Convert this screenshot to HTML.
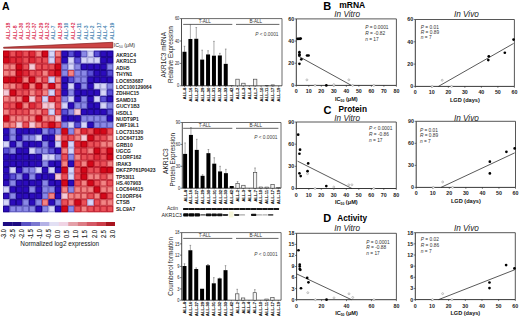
<!DOCTYPE html>
<html><head><meta charset="utf-8"><style>
html,body{margin:0;padding:0;background:#fff;overflow:hidden;width:520px;height:318px;}
svg{display:block;}
text{font-family:"Liberation Sans", sans-serif;}
</style></head><body>
<svg width="520" height="318" viewBox="0 0 520 318">
<rect width="520" height="318" fill="#fff"/>
<rect x="3.10" y="50.70" width="6.48" height="6.46" fill="#d4081a"/>
<rect x="9.58" y="50.70" width="6.48" height="6.46" fill="#ea5058"/>
<rect x="16.06" y="50.70" width="6.48" height="6.46" fill="#e02a38"/>
<rect x="22.54" y="50.70" width="6.48" height="6.46" fill="#ea5058"/>
<rect x="29.02" y="50.70" width="6.48" height="6.46" fill="#e02a38"/>
<rect x="35.50" y="50.70" width="6.48" height="6.46" fill="#f28484"/>
<rect x="41.98" y="50.70" width="6.48" height="6.46" fill="#d4081a"/>
<rect x="48.46" y="50.70" width="6.48" height="6.46" fill="#d6d6f8"/>
<rect x="54.94" y="50.70" width="6.48" height="6.46" fill="#f28484"/>
<rect x="61.42" y="50.70" width="6.48" height="6.46" fill="#2c0cbc"/>
<rect x="67.90" y="50.70" width="6.48" height="6.46" fill="#5a50d6"/>
<rect x="74.38" y="50.70" width="6.48" height="6.46" fill="#2c0cbc"/>
<rect x="80.86" y="50.70" width="6.48" height="6.46" fill="#8a88e6"/>
<rect x="87.34" y="50.70" width="6.48" height="6.46" fill="#d6d6f8"/>
<rect x="93.82" y="50.70" width="6.48" height="6.46" fill="#5a50d6"/>
<rect x="100.30" y="50.70" width="6.48" height="6.46" fill="#2c0cbc"/>
<rect x="106.78" y="50.70" width="6.48" height="6.46" fill="#2c0cbc"/>
<rect x="3.10" y="57.16" width="6.48" height="6.46" fill="#d4081a"/>
<rect x="9.58" y="57.16" width="6.48" height="6.46" fill="#e02a38"/>
<rect x="16.06" y="57.16" width="6.48" height="6.46" fill="#e02a38"/>
<rect x="22.54" y="57.16" width="6.48" height="6.46" fill="#ea5058"/>
<rect x="29.02" y="57.16" width="6.48" height="6.46" fill="#e02a38"/>
<rect x="35.50" y="57.16" width="6.48" height="6.46" fill="#ea5058"/>
<rect x="41.98" y="57.16" width="6.48" height="6.46" fill="#ea5058"/>
<rect x="48.46" y="57.16" width="6.48" height="6.46" fill="#d6d6f8"/>
<rect x="54.94" y="57.16" width="6.48" height="6.46" fill="#ea5058"/>
<rect x="61.42" y="57.16" width="6.48" height="6.46" fill="#2c0cbc"/>
<rect x="67.90" y="57.16" width="6.48" height="6.46" fill="#d6d6f8"/>
<rect x="74.38" y="57.16" width="6.48" height="6.46" fill="#5a50d6"/>
<rect x="80.86" y="57.16" width="6.48" height="6.46" fill="#d6d6f8"/>
<rect x="87.34" y="57.16" width="6.48" height="6.46" fill="#d6d6f8"/>
<rect x="93.82" y="57.16" width="6.48" height="6.46" fill="#d6d6f8"/>
<rect x="100.30" y="57.16" width="6.48" height="6.46" fill="#2c0cbc"/>
<rect x="106.78" y="57.16" width="6.48" height="6.46" fill="#2c0cbc"/>
<rect x="3.10" y="63.62" width="6.48" height="6.46" fill="#f28484"/>
<rect x="9.58" y="63.62" width="6.48" height="6.46" fill="#f28484"/>
<rect x="16.06" y="63.62" width="6.48" height="6.46" fill="#d4081a"/>
<rect x="22.54" y="63.62" width="6.48" height="6.46" fill="#ea5058"/>
<rect x="29.02" y="63.62" width="6.48" height="6.46" fill="#f5cad8"/>
<rect x="35.50" y="63.62" width="6.48" height="6.46" fill="#ea5058"/>
<rect x="41.98" y="63.62" width="6.48" height="6.46" fill="#ea5058"/>
<rect x="48.46" y="63.62" width="6.48" height="6.46" fill="#ea5058"/>
<rect x="54.94" y="63.62" width="6.48" height="6.46" fill="#d4081a"/>
<rect x="61.42" y="63.62" width="6.48" height="6.46" fill="#8a88e6"/>
<rect x="67.90" y="63.62" width="6.48" height="6.46" fill="#d6d6f8"/>
<rect x="74.38" y="63.62" width="6.48" height="6.46" fill="#8a88e6"/>
<rect x="80.86" y="63.62" width="6.48" height="6.46" fill="#2c0cbc"/>
<rect x="87.34" y="63.62" width="6.48" height="6.46" fill="#2c0cbc"/>
<rect x="93.82" y="63.62" width="6.48" height="6.46" fill="#2c0cbc"/>
<rect x="100.30" y="63.62" width="6.48" height="6.46" fill="#2c0cbc"/>
<rect x="106.78" y="63.62" width="6.48" height="6.46" fill="#8a88e6"/>
<rect x="3.10" y="70.08" width="6.48" height="6.46" fill="#f28484"/>
<rect x="9.58" y="70.08" width="6.48" height="6.46" fill="#f28484"/>
<rect x="16.06" y="70.08" width="6.48" height="6.46" fill="#d4081a"/>
<rect x="22.54" y="70.08" width="6.48" height="6.46" fill="#e02a38"/>
<rect x="29.02" y="70.08" width="6.48" height="6.46" fill="#ea5058"/>
<rect x="35.50" y="70.08" width="6.48" height="6.46" fill="#ea5058"/>
<rect x="41.98" y="70.08" width="6.48" height="6.46" fill="#f28484"/>
<rect x="48.46" y="70.08" width="6.48" height="6.46" fill="#e02a38"/>
<rect x="54.94" y="70.08" width="6.48" height="6.46" fill="#d4081a"/>
<rect x="61.42" y="70.08" width="6.48" height="6.46" fill="#8a88e6"/>
<rect x="67.90" y="70.08" width="6.48" height="6.46" fill="#f28484"/>
<rect x="74.38" y="70.08" width="6.48" height="6.46" fill="#8a88e6"/>
<rect x="80.86" y="70.08" width="6.48" height="6.46" fill="#8a88e6"/>
<rect x="87.34" y="70.08" width="6.48" height="6.46" fill="#5a50d6"/>
<rect x="93.82" y="70.08" width="6.48" height="6.46" fill="#2c0cbc"/>
<rect x="100.30" y="70.08" width="6.48" height="6.46" fill="#2c0cbc"/>
<rect x="106.78" y="70.08" width="6.48" height="6.46" fill="#5a50d6"/>
<rect x="3.10" y="76.54" width="6.48" height="6.46" fill="#d4081a"/>
<rect x="9.58" y="76.54" width="6.48" height="6.46" fill="#d4081a"/>
<rect x="16.06" y="76.54" width="6.48" height="6.46" fill="#d4081a"/>
<rect x="22.54" y="76.54" width="6.48" height="6.46" fill="#f28484"/>
<rect x="29.02" y="76.54" width="6.48" height="6.46" fill="#d4081a"/>
<rect x="35.50" y="76.54" width="6.48" height="6.46" fill="#f28484"/>
<rect x="41.98" y="76.54" width="6.48" height="6.46" fill="#ea5058"/>
<rect x="48.46" y="76.54" width="6.48" height="6.46" fill="#d6d6f8"/>
<rect x="54.94" y="76.54" width="6.48" height="6.46" fill="#f28484"/>
<rect x="61.42" y="76.54" width="6.48" height="6.46" fill="#2c0cbc"/>
<rect x="67.90" y="76.54" width="6.48" height="6.46" fill="#5a50d6"/>
<rect x="74.38" y="76.54" width="6.48" height="6.46" fill="#8a88e6"/>
<rect x="80.86" y="76.54" width="6.48" height="6.46" fill="#8a88e6"/>
<rect x="87.34" y="76.54" width="6.48" height="6.46" fill="#2c0cbc"/>
<rect x="93.82" y="76.54" width="6.48" height="6.46" fill="#2c0cbc"/>
<rect x="100.30" y="76.54" width="6.48" height="6.46" fill="#2c0cbc"/>
<rect x="106.78" y="76.54" width="6.48" height="6.46" fill="#2c0cbc"/>
<rect x="3.10" y="83.00" width="6.48" height="6.46" fill="#f28484"/>
<rect x="9.58" y="83.00" width="6.48" height="6.46" fill="#f28484"/>
<rect x="16.06" y="83.00" width="6.48" height="6.46" fill="#ea5058"/>
<rect x="22.54" y="83.00" width="6.48" height="6.46" fill="#d4081a"/>
<rect x="29.02" y="83.00" width="6.48" height="6.46" fill="#f28484"/>
<rect x="35.50" y="83.00" width="6.48" height="6.46" fill="#d4081a"/>
<rect x="41.98" y="83.00" width="6.48" height="6.46" fill="#f28484"/>
<rect x="48.46" y="83.00" width="6.48" height="6.46" fill="#d4081a"/>
<rect x="54.94" y="83.00" width="6.48" height="6.46" fill="#f28484"/>
<rect x="61.42" y="83.00" width="6.48" height="6.46" fill="#2c0cbc"/>
<rect x="67.90" y="83.00" width="6.48" height="6.46" fill="#d6d6f8"/>
<rect x="74.38" y="83.00" width="6.48" height="6.46" fill="#2c0cbc"/>
<rect x="80.86" y="83.00" width="6.48" height="6.46" fill="#8a88e6"/>
<rect x="87.34" y="83.00" width="6.48" height="6.46" fill="#2c0cbc"/>
<rect x="93.82" y="83.00" width="6.48" height="6.46" fill="#d6d6f8"/>
<rect x="100.30" y="83.00" width="6.48" height="6.46" fill="#d6d6f8"/>
<rect x="106.78" y="83.00" width="6.48" height="6.46" fill="#8a88e6"/>
<rect x="3.10" y="89.46" width="6.48" height="6.46" fill="#f5cad8"/>
<rect x="9.58" y="89.46" width="6.48" height="6.46" fill="#d4081a"/>
<rect x="16.06" y="89.46" width="6.48" height="6.46" fill="#ea5058"/>
<rect x="22.54" y="89.46" width="6.48" height="6.46" fill="#ea5058"/>
<rect x="29.02" y="89.46" width="6.48" height="6.46" fill="#f28484"/>
<rect x="35.50" y="89.46" width="6.48" height="6.46" fill="#ea5058"/>
<rect x="41.98" y="89.46" width="6.48" height="6.46" fill="#f28484"/>
<rect x="48.46" y="89.46" width="6.48" height="6.46" fill="#d6d6f8"/>
<rect x="54.94" y="89.46" width="6.48" height="6.46" fill="#ea5058"/>
<rect x="61.42" y="89.46" width="6.48" height="6.46" fill="#2c0cbc"/>
<rect x="67.90" y="89.46" width="6.48" height="6.46" fill="#8a88e6"/>
<rect x="74.38" y="89.46" width="6.48" height="6.46" fill="#2c0cbc"/>
<rect x="80.86" y="89.46" width="6.48" height="6.46" fill="#2c0cbc"/>
<rect x="87.34" y="89.46" width="6.48" height="6.46" fill="#2c0cbc"/>
<rect x="93.82" y="89.46" width="6.48" height="6.46" fill="#2c0cbc"/>
<rect x="100.30" y="89.46" width="6.48" height="6.46" fill="#d6d6f8"/>
<rect x="106.78" y="89.46" width="6.48" height="6.46" fill="#5a50d6"/>
<rect x="3.10" y="95.92" width="6.48" height="6.46" fill="#f28484"/>
<rect x="9.58" y="95.92" width="6.48" height="6.46" fill="#f28484"/>
<rect x="16.06" y="95.92" width="6.48" height="6.46" fill="#f28484"/>
<rect x="22.54" y="95.92" width="6.48" height="6.46" fill="#d4081a"/>
<rect x="29.02" y="95.92" width="6.48" height="6.46" fill="#f5cad8"/>
<rect x="35.50" y="95.92" width="6.48" height="6.46" fill="#ea5058"/>
<rect x="41.98" y="95.92" width="6.48" height="6.46" fill="#d6d6f8"/>
<rect x="48.46" y="95.92" width="6.48" height="6.46" fill="#e02a38"/>
<rect x="54.94" y="95.92" width="6.48" height="6.46" fill="#ea5058"/>
<rect x="61.42" y="95.92" width="6.48" height="6.46" fill="#8a88e6"/>
<rect x="67.90" y="95.92" width="6.48" height="6.46" fill="#d6d6f8"/>
<rect x="74.38" y="95.92" width="6.48" height="6.46" fill="#2c0cbc"/>
<rect x="80.86" y="95.92" width="6.48" height="6.46" fill="#8a88e6"/>
<rect x="87.34" y="95.92" width="6.48" height="6.46" fill="#2c0cbc"/>
<rect x="93.82" y="95.92" width="6.48" height="6.46" fill="#d6d6f8"/>
<rect x="100.30" y="95.92" width="6.48" height="6.46" fill="#5a50d6"/>
<rect x="106.78" y="95.92" width="6.48" height="6.46" fill="#2c0cbc"/>
<rect x="3.10" y="102.38" width="6.48" height="6.46" fill="#ea5058"/>
<rect x="9.58" y="102.38" width="6.48" height="6.46" fill="#ea5058"/>
<rect x="16.06" y="102.38" width="6.48" height="6.46" fill="#d4081a"/>
<rect x="22.54" y="102.38" width="6.48" height="6.46" fill="#f28484"/>
<rect x="29.02" y="102.38" width="6.48" height="6.46" fill="#e02a38"/>
<rect x="35.50" y="102.38" width="6.48" height="6.46" fill="#ea5058"/>
<rect x="41.98" y="102.38" width="6.48" height="6.46" fill="#f5cad8"/>
<rect x="48.46" y="102.38" width="6.48" height="6.46" fill="#f5cad8"/>
<rect x="54.94" y="102.38" width="6.48" height="6.46" fill="#ea5058"/>
<rect x="61.42" y="102.38" width="6.48" height="6.46" fill="#d6d6f8"/>
<rect x="67.90" y="102.38" width="6.48" height="6.46" fill="#2c0cbc"/>
<rect x="74.38" y="102.38" width="6.48" height="6.46" fill="#8a88e6"/>
<rect x="80.86" y="102.38" width="6.48" height="6.46" fill="#8a88e6"/>
<rect x="87.34" y="102.38" width="6.48" height="6.46" fill="#2c0cbc"/>
<rect x="93.82" y="102.38" width="6.48" height="6.46" fill="#2c0cbc"/>
<rect x="100.30" y="102.38" width="6.48" height="6.46" fill="#d6d6f8"/>
<rect x="106.78" y="102.38" width="6.48" height="6.46" fill="#8a88e6"/>
<rect x="3.10" y="108.84" width="6.48" height="6.46" fill="#f28484"/>
<rect x="9.58" y="108.84" width="6.48" height="6.46" fill="#ea5058"/>
<rect x="16.06" y="108.84" width="6.48" height="6.46" fill="#ea5058"/>
<rect x="22.54" y="108.84" width="6.48" height="6.46" fill="#ea5058"/>
<rect x="29.02" y="108.84" width="6.48" height="6.46" fill="#f28484"/>
<rect x="35.50" y="108.84" width="6.48" height="6.46" fill="#f28484"/>
<rect x="41.98" y="108.84" width="6.48" height="6.46" fill="#ea5058"/>
<rect x="48.46" y="108.84" width="6.48" height="6.46" fill="#d6d6f8"/>
<rect x="54.94" y="108.84" width="6.48" height="6.46" fill="#ea5058"/>
<rect x="61.42" y="108.84" width="6.48" height="6.46" fill="#5a50d6"/>
<rect x="67.90" y="108.84" width="6.48" height="6.46" fill="#8a88e6"/>
<rect x="74.38" y="108.84" width="6.48" height="6.46" fill="#f5cad8"/>
<rect x="80.86" y="108.84" width="6.48" height="6.46" fill="#2c0cbc"/>
<rect x="87.34" y="108.84" width="6.48" height="6.46" fill="#2c0cbc"/>
<rect x="93.82" y="108.84" width="6.48" height="6.46" fill="#2c0cbc"/>
<rect x="100.30" y="108.84" width="6.48" height="6.46" fill="#2c0cbc"/>
<rect x="106.78" y="108.84" width="6.48" height="6.46" fill="#5a50d6"/>
<rect x="3.10" y="115.30" width="6.48" height="6.46" fill="#d4081a"/>
<rect x="9.58" y="115.30" width="6.48" height="6.46" fill="#f28484"/>
<rect x="16.06" y="115.30" width="6.48" height="6.46" fill="#f28484"/>
<rect x="22.54" y="115.30" width="6.48" height="6.46" fill="#f28484"/>
<rect x="29.02" y="115.30" width="6.48" height="6.46" fill="#f28484"/>
<rect x="35.50" y="115.30" width="6.48" height="6.46" fill="#d4081a"/>
<rect x="41.98" y="115.30" width="6.48" height="6.46" fill="#f28484"/>
<rect x="48.46" y="115.30" width="6.48" height="6.46" fill="#f28484"/>
<rect x="54.94" y="115.30" width="6.48" height="6.46" fill="#f5cad8"/>
<rect x="61.42" y="115.30" width="6.48" height="6.46" fill="#2c0cbc"/>
<rect x="67.90" y="115.30" width="6.48" height="6.46" fill="#2c0cbc"/>
<rect x="74.38" y="115.30" width="6.48" height="6.46" fill="#2c0cbc"/>
<rect x="80.86" y="115.30" width="6.48" height="6.46" fill="#8a88e6"/>
<rect x="87.34" y="115.30" width="6.48" height="6.46" fill="#8a88e6"/>
<rect x="93.82" y="115.30" width="6.48" height="6.46" fill="#8a88e6"/>
<rect x="100.30" y="115.30" width="6.48" height="6.46" fill="#8a88e6"/>
<rect x="106.78" y="115.30" width="6.48" height="6.46" fill="#2c0cbc"/>
<rect x="3.10" y="121.76" width="6.48" height="6.46" fill="#f28484"/>
<rect x="9.58" y="121.76" width="6.48" height="6.46" fill="#f28484"/>
<rect x="16.06" y="121.76" width="6.48" height="6.46" fill="#f5cad8"/>
<rect x="22.54" y="121.76" width="6.48" height="6.46" fill="#ea5058"/>
<rect x="29.02" y="121.76" width="6.48" height="6.46" fill="#f5cad8"/>
<rect x="35.50" y="121.76" width="6.48" height="6.46" fill="#f28484"/>
<rect x="41.98" y="121.76" width="6.48" height="6.46" fill="#ea5058"/>
<rect x="48.46" y="121.76" width="6.48" height="6.46" fill="#d4081a"/>
<rect x="54.94" y="121.76" width="6.48" height="6.46" fill="#ea5058"/>
<rect x="61.42" y="121.76" width="6.48" height="6.46" fill="#8a88e6"/>
<rect x="67.90" y="121.76" width="6.48" height="6.46" fill="#d6d6f8"/>
<rect x="74.38" y="121.76" width="6.48" height="6.46" fill="#5a50d6"/>
<rect x="80.86" y="121.76" width="6.48" height="6.46" fill="#d6d6f8"/>
<rect x="87.34" y="121.76" width="6.48" height="6.46" fill="#2c0cbc"/>
<rect x="93.82" y="121.76" width="6.48" height="6.46" fill="#8a88e6"/>
<rect x="100.30" y="121.76" width="6.48" height="6.46" fill="#8a88e6"/>
<rect x="106.78" y="121.76" width="6.48" height="6.46" fill="#8a88e6"/>
<rect x="3.10" y="128.22" width="6.48" height="6.46" fill="#2c0cbc"/>
<rect x="9.58" y="128.22" width="6.48" height="6.46" fill="#8a88e6"/>
<rect x="16.06" y="128.22" width="6.48" height="6.46" fill="#2c0cbc"/>
<rect x="22.54" y="128.22" width="6.48" height="6.46" fill="#2c0cbc"/>
<rect x="29.02" y="128.22" width="6.48" height="6.46" fill="#2c0cbc"/>
<rect x="35.50" y="128.22" width="6.48" height="6.46" fill="#2c0cbc"/>
<rect x="41.98" y="128.22" width="6.48" height="6.46" fill="#8a88e6"/>
<rect x="48.46" y="128.22" width="6.48" height="6.46" fill="#5a50d6"/>
<rect x="54.94" y="128.22" width="6.48" height="6.46" fill="#8a88e6"/>
<rect x="61.42" y="128.22" width="6.48" height="6.46" fill="#d4081a"/>
<rect x="67.90" y="128.22" width="6.48" height="6.46" fill="#8a88e6"/>
<rect x="74.38" y="128.22" width="6.48" height="6.46" fill="#f28484"/>
<rect x="80.86" y="128.22" width="6.48" height="6.46" fill="#e02a38"/>
<rect x="87.34" y="128.22" width="6.48" height="6.46" fill="#ea5058"/>
<rect x="93.82" y="128.22" width="6.48" height="6.46" fill="#d4081a"/>
<rect x="100.30" y="128.22" width="6.48" height="6.46" fill="#d4081a"/>
<rect x="106.78" y="128.22" width="6.48" height="6.46" fill="#ea5058"/>
<rect x="3.10" y="134.68" width="6.48" height="6.46" fill="#2c0cbc"/>
<rect x="9.58" y="134.68" width="6.48" height="6.46" fill="#8a88e6"/>
<rect x="16.06" y="134.68" width="6.48" height="6.46" fill="#2c0cbc"/>
<rect x="22.54" y="134.68" width="6.48" height="6.46" fill="#8a88e6"/>
<rect x="29.02" y="134.68" width="6.48" height="6.46" fill="#8a88e6"/>
<rect x="35.50" y="134.68" width="6.48" height="6.46" fill="#d6d6f8"/>
<rect x="41.98" y="134.68" width="6.48" height="6.46" fill="#2c0cbc"/>
<rect x="48.46" y="134.68" width="6.48" height="6.46" fill="#2c0cbc"/>
<rect x="54.94" y="134.68" width="6.48" height="6.46" fill="#f5cad8"/>
<rect x="61.42" y="134.68" width="6.48" height="6.46" fill="#ea5058"/>
<rect x="67.90" y="134.68" width="6.48" height="6.46" fill="#ea5058"/>
<rect x="74.38" y="134.68" width="6.48" height="6.46" fill="#f28484"/>
<rect x="80.86" y="134.68" width="6.48" height="6.46" fill="#f5cad8"/>
<rect x="87.34" y="134.68" width="6.48" height="6.46" fill="#d4081a"/>
<rect x="93.82" y="134.68" width="6.48" height="6.46" fill="#ea5058"/>
<rect x="100.30" y="134.68" width="6.48" height="6.46" fill="#ea5058"/>
<rect x="106.78" y="134.68" width="6.48" height="6.46" fill="#f28484"/>
<rect x="3.10" y="141.14" width="6.48" height="6.46" fill="#d6d6f8"/>
<rect x="9.58" y="141.14" width="6.48" height="6.46" fill="#2c0cbc"/>
<rect x="16.06" y="141.14" width="6.48" height="6.46" fill="#8a88e6"/>
<rect x="22.54" y="141.14" width="6.48" height="6.46" fill="#2c0cbc"/>
<rect x="29.02" y="141.14" width="6.48" height="6.46" fill="#2c0cbc"/>
<rect x="35.50" y="141.14" width="6.48" height="6.46" fill="#2c0cbc"/>
<rect x="41.98" y="141.14" width="6.48" height="6.46" fill="#8a88e6"/>
<rect x="48.46" y="141.14" width="6.48" height="6.46" fill="#2c0cbc"/>
<rect x="54.94" y="141.14" width="6.48" height="6.46" fill="#d6d6f8"/>
<rect x="61.42" y="141.14" width="6.48" height="6.46" fill="#d4081a"/>
<rect x="67.90" y="141.14" width="6.48" height="6.46" fill="#d6d6f8"/>
<rect x="74.38" y="141.14" width="6.48" height="6.46" fill="#e02a38"/>
<rect x="80.86" y="141.14" width="6.48" height="6.46" fill="#d4081a"/>
<rect x="87.34" y="141.14" width="6.48" height="6.46" fill="#ea5058"/>
<rect x="93.82" y="141.14" width="6.48" height="6.46" fill="#ea5058"/>
<rect x="100.30" y="141.14" width="6.48" height="6.46" fill="#f28484"/>
<rect x="106.78" y="141.14" width="6.48" height="6.46" fill="#f28484"/>
<rect x="3.10" y="147.60" width="6.48" height="6.46" fill="#5a50d6"/>
<rect x="9.58" y="147.60" width="6.48" height="6.46" fill="#8a88e6"/>
<rect x="16.06" y="147.60" width="6.48" height="6.46" fill="#2c0cbc"/>
<rect x="22.54" y="147.60" width="6.48" height="6.46" fill="#2c0cbc"/>
<rect x="29.02" y="147.60" width="6.48" height="6.46" fill="#d6d6f8"/>
<rect x="35.50" y="147.60" width="6.48" height="6.46" fill="#8a88e6"/>
<rect x="41.98" y="147.60" width="6.48" height="6.46" fill="#8a88e6"/>
<rect x="48.46" y="147.60" width="6.48" height="6.46" fill="#5a50d6"/>
<rect x="54.94" y="147.60" width="6.48" height="6.46" fill="#2c0cbc"/>
<rect x="61.42" y="147.60" width="6.48" height="6.46" fill="#f28484"/>
<rect x="67.90" y="147.60" width="6.48" height="6.46" fill="#d6d6f8"/>
<rect x="74.38" y="147.60" width="6.48" height="6.46" fill="#ea5058"/>
<rect x="80.86" y="147.60" width="6.48" height="6.46" fill="#ea5058"/>
<rect x="87.34" y="147.60" width="6.48" height="6.46" fill="#f28484"/>
<rect x="93.82" y="147.60" width="6.48" height="6.46" fill="#d4081a"/>
<rect x="100.30" y="147.60" width="6.48" height="6.46" fill="#ea5058"/>
<rect x="106.78" y="147.60" width="6.48" height="6.46" fill="#d4081a"/>
<rect x="3.10" y="154.06" width="6.48" height="6.46" fill="#2c0cbc"/>
<rect x="9.58" y="154.06" width="6.48" height="6.46" fill="#2c0cbc"/>
<rect x="16.06" y="154.06" width="6.48" height="6.46" fill="#2c0cbc"/>
<rect x="22.54" y="154.06" width="6.48" height="6.46" fill="#2c0cbc"/>
<rect x="29.02" y="154.06" width="6.48" height="6.46" fill="#2c0cbc"/>
<rect x="35.50" y="154.06" width="6.48" height="6.46" fill="#2c0cbc"/>
<rect x="41.98" y="154.06" width="6.48" height="6.46" fill="#d6d6f8"/>
<rect x="48.46" y="154.06" width="6.48" height="6.46" fill="#d6d6f8"/>
<rect x="54.94" y="154.06" width="6.48" height="6.46" fill="#8a88e6"/>
<rect x="61.42" y="154.06" width="6.48" height="6.46" fill="#ea5058"/>
<rect x="67.90" y="154.06" width="6.48" height="6.46" fill="#8a88e6"/>
<rect x="74.38" y="154.06" width="6.48" height="6.46" fill="#f28484"/>
<rect x="80.86" y="154.06" width="6.48" height="6.46" fill="#ea5058"/>
<rect x="87.34" y="154.06" width="6.48" height="6.46" fill="#ea5058"/>
<rect x="93.82" y="154.06" width="6.48" height="6.46" fill="#e02a38"/>
<rect x="100.30" y="154.06" width="6.48" height="6.46" fill="#ea5058"/>
<rect x="106.78" y="154.06" width="6.48" height="6.46" fill="#d4081a"/>
<rect x="3.10" y="160.52" width="6.48" height="6.46" fill="#2c0cbc"/>
<rect x="9.58" y="160.52" width="6.48" height="6.46" fill="#2c0cbc"/>
<rect x="16.06" y="160.52" width="6.48" height="6.46" fill="#2c0cbc"/>
<rect x="22.54" y="160.52" width="6.48" height="6.46" fill="#2c0cbc"/>
<rect x="29.02" y="160.52" width="6.48" height="6.46" fill="#2c0cbc"/>
<rect x="35.50" y="160.52" width="6.48" height="6.46" fill="#2c0cbc"/>
<rect x="41.98" y="160.52" width="6.48" height="6.46" fill="#8a88e6"/>
<rect x="48.46" y="160.52" width="6.48" height="6.46" fill="#2c0cbc"/>
<rect x="54.94" y="160.52" width="6.48" height="6.46" fill="#2c0cbc"/>
<rect x="61.42" y="160.52" width="6.48" height="6.46" fill="#f28484"/>
<rect x="67.90" y="160.52" width="6.48" height="6.46" fill="#2c0cbc"/>
<rect x="74.38" y="160.52" width="6.48" height="6.46" fill="#ea5058"/>
<rect x="80.86" y="160.52" width="6.48" height="6.46" fill="#f28484"/>
<rect x="87.34" y="160.52" width="6.48" height="6.46" fill="#d4081a"/>
<rect x="93.82" y="160.52" width="6.48" height="6.46" fill="#ea5058"/>
<rect x="100.30" y="160.52" width="6.48" height="6.46" fill="#ea5058"/>
<rect x="106.78" y="160.52" width="6.48" height="6.46" fill="#f28484"/>
<rect x="3.10" y="166.98" width="6.48" height="6.46" fill="#2c0cbc"/>
<rect x="9.58" y="166.98" width="6.48" height="6.46" fill="#d6d6f8"/>
<rect x="16.06" y="166.98" width="6.48" height="6.46" fill="#2c0cbc"/>
<rect x="22.54" y="166.98" width="6.48" height="6.46" fill="#8a88e6"/>
<rect x="29.02" y="166.98" width="6.48" height="6.46" fill="#8a88e6"/>
<rect x="35.50" y="166.98" width="6.48" height="6.46" fill="#d6d6f8"/>
<rect x="41.98" y="166.98" width="6.48" height="6.46" fill="#2c0cbc"/>
<rect x="48.46" y="166.98" width="6.48" height="6.46" fill="#d6d6f8"/>
<rect x="54.94" y="166.98" width="6.48" height="6.46" fill="#2c0cbc"/>
<rect x="61.42" y="166.98" width="6.48" height="6.46" fill="#d4081a"/>
<rect x="67.90" y="166.98" width="6.48" height="6.46" fill="#d6d6f8"/>
<rect x="74.38" y="166.98" width="6.48" height="6.46" fill="#ea5058"/>
<rect x="80.86" y="166.98" width="6.48" height="6.46" fill="#d4081a"/>
<rect x="87.34" y="166.98" width="6.48" height="6.46" fill="#ea5058"/>
<rect x="93.82" y="166.98" width="6.48" height="6.46" fill="#ea5058"/>
<rect x="100.30" y="166.98" width="6.48" height="6.46" fill="#d4081a"/>
<rect x="106.78" y="166.98" width="6.48" height="6.46" fill="#d4081a"/>
<rect x="3.10" y="173.44" width="6.48" height="6.46" fill="#2c0cbc"/>
<rect x="9.58" y="173.44" width="6.48" height="6.46" fill="#5a50d6"/>
<rect x="16.06" y="173.44" width="6.48" height="6.46" fill="#8a88e6"/>
<rect x="22.54" y="173.44" width="6.48" height="6.46" fill="#2c0cbc"/>
<rect x="29.02" y="173.44" width="6.48" height="6.46" fill="#8a88e6"/>
<rect x="35.50" y="173.44" width="6.48" height="6.46" fill="#2c0cbc"/>
<rect x="41.98" y="173.44" width="6.48" height="6.46" fill="#2c0cbc"/>
<rect x="48.46" y="173.44" width="6.48" height="6.46" fill="#2c0cbc"/>
<rect x="54.94" y="173.44" width="6.48" height="6.46" fill="#f5cad8"/>
<rect x="61.42" y="173.44" width="6.48" height="6.46" fill="#ea5058"/>
<rect x="67.90" y="173.44" width="6.48" height="6.46" fill="#d6d6f8"/>
<rect x="74.38" y="173.44" width="6.48" height="6.46" fill="#ea5058"/>
<rect x="80.86" y="173.44" width="6.48" height="6.46" fill="#d4081a"/>
<rect x="87.34" y="173.44" width="6.48" height="6.46" fill="#f28484"/>
<rect x="93.82" y="173.44" width="6.48" height="6.46" fill="#f28484"/>
<rect x="100.30" y="173.44" width="6.48" height="6.46" fill="#ea5058"/>
<rect x="106.78" y="173.44" width="6.48" height="6.46" fill="#f28484"/>
<rect x="3.10" y="179.90" width="6.48" height="6.46" fill="#2c0cbc"/>
<rect x="9.58" y="179.90" width="6.48" height="6.46" fill="#8a88e6"/>
<rect x="16.06" y="179.90" width="6.48" height="6.46" fill="#2c0cbc"/>
<rect x="22.54" y="179.90" width="6.48" height="6.46" fill="#2c0cbc"/>
<rect x="29.02" y="179.90" width="6.48" height="6.46" fill="#2c0cbc"/>
<rect x="35.50" y="179.90" width="6.48" height="6.46" fill="#2c0cbc"/>
<rect x="41.98" y="179.90" width="6.48" height="6.46" fill="#8a88e6"/>
<rect x="48.46" y="179.90" width="6.48" height="6.46" fill="#2c0cbc"/>
<rect x="54.94" y="179.90" width="6.48" height="6.46" fill="#2c0cbc"/>
<rect x="61.42" y="179.90" width="6.48" height="6.46" fill="#d4081a"/>
<rect x="67.90" y="179.90" width="6.48" height="6.46" fill="#2c0cbc"/>
<rect x="74.38" y="179.90" width="6.48" height="6.46" fill="#ea5058"/>
<rect x="80.86" y="179.90" width="6.48" height="6.46" fill="#f28484"/>
<rect x="87.34" y="179.90" width="6.48" height="6.46" fill="#d4081a"/>
<rect x="93.82" y="179.90" width="6.48" height="6.46" fill="#ea5058"/>
<rect x="100.30" y="179.90" width="6.48" height="6.46" fill="#f28484"/>
<rect x="106.78" y="179.90" width="6.48" height="6.46" fill="#ea5058"/>
<rect x="3.10" y="186.36" width="6.48" height="6.46" fill="#d6d6f8"/>
<rect x="9.58" y="186.36" width="6.48" height="6.46" fill="#2c0cbc"/>
<rect x="16.06" y="186.36" width="6.48" height="6.46" fill="#2c0cbc"/>
<rect x="22.54" y="186.36" width="6.48" height="6.46" fill="#2c0cbc"/>
<rect x="29.02" y="186.36" width="6.48" height="6.46" fill="#8a88e6"/>
<rect x="35.50" y="186.36" width="6.48" height="6.46" fill="#2c0cbc"/>
<rect x="41.98" y="186.36" width="6.48" height="6.46" fill="#8a88e6"/>
<rect x="48.46" y="186.36" width="6.48" height="6.46" fill="#8a88e6"/>
<rect x="54.94" y="186.36" width="6.48" height="6.46" fill="#2c0cbc"/>
<rect x="61.42" y="186.36" width="6.48" height="6.46" fill="#f28484"/>
<rect x="67.90" y="186.36" width="6.48" height="6.46" fill="#8a88e6"/>
<rect x="74.38" y="186.36" width="6.48" height="6.46" fill="#f28484"/>
<rect x="80.86" y="186.36" width="6.48" height="6.46" fill="#f28484"/>
<rect x="87.34" y="186.36" width="6.48" height="6.46" fill="#f28484"/>
<rect x="93.82" y="186.36" width="6.48" height="6.46" fill="#d4081a"/>
<rect x="100.30" y="186.36" width="6.48" height="6.46" fill="#f28484"/>
<rect x="106.78" y="186.36" width="6.48" height="6.46" fill="#f28484"/>
<rect x="3.10" y="192.82" width="6.48" height="6.46" fill="#2c0cbc"/>
<rect x="9.58" y="192.82" width="6.48" height="6.46" fill="#8a88e6"/>
<rect x="16.06" y="192.82" width="6.48" height="6.46" fill="#2c0cbc"/>
<rect x="22.54" y="192.82" width="6.48" height="6.46" fill="#2c0cbc"/>
<rect x="29.02" y="192.82" width="6.48" height="6.46" fill="#2c0cbc"/>
<rect x="35.50" y="192.82" width="6.48" height="6.46" fill="#2c0cbc"/>
<rect x="41.98" y="192.82" width="6.48" height="6.46" fill="#8a88e6"/>
<rect x="48.46" y="192.82" width="6.48" height="6.46" fill="#f28484"/>
<rect x="54.94" y="192.82" width="6.48" height="6.46" fill="#2c0cbc"/>
<rect x="61.42" y="192.82" width="6.48" height="6.46" fill="#f5cad8"/>
<rect x="67.90" y="192.82" width="6.48" height="6.46" fill="#f28484"/>
<rect x="74.38" y="192.82" width="6.48" height="6.46" fill="#f28484"/>
<rect x="80.86" y="192.82" width="6.48" height="6.46" fill="#f28484"/>
<rect x="87.34" y="192.82" width="6.48" height="6.46" fill="#ea5058"/>
<rect x="93.82" y="192.82" width="6.48" height="6.46" fill="#f28484"/>
<rect x="100.30" y="192.82" width="6.48" height="6.46" fill="#d4081a"/>
<rect x="106.78" y="192.82" width="6.48" height="6.46" fill="#ea5058"/>
<rect x="3.10" y="199.28" width="6.48" height="6.46" fill="#d6d6f8"/>
<rect x="9.58" y="199.28" width="6.48" height="6.46" fill="#2c0cbc"/>
<rect x="16.06" y="199.28" width="6.48" height="6.46" fill="#2c0cbc"/>
<rect x="22.54" y="199.28" width="6.48" height="6.46" fill="#8a88e6"/>
<rect x="29.02" y="199.28" width="6.48" height="6.46" fill="#2c0cbc"/>
<rect x="35.50" y="199.28" width="6.48" height="6.46" fill="#8a88e6"/>
<rect x="41.98" y="199.28" width="6.48" height="6.46" fill="#f28484"/>
<rect x="48.46" y="199.28" width="6.48" height="6.46" fill="#2c0cbc"/>
<rect x="54.94" y="199.28" width="6.48" height="6.46" fill="#8a88e6"/>
<rect x="61.42" y="199.28" width="6.48" height="6.46" fill="#ea5058"/>
<rect x="67.90" y="199.28" width="6.48" height="6.46" fill="#f28484"/>
<rect x="74.38" y="199.28" width="6.48" height="6.46" fill="#d4081a"/>
<rect x="80.86" y="199.28" width="6.48" height="6.46" fill="#ea5058"/>
<rect x="87.34" y="199.28" width="6.48" height="6.46" fill="#d6d6f8"/>
<rect x="93.82" y="199.28" width="6.48" height="6.46" fill="#ea5058"/>
<rect x="100.30" y="199.28" width="6.48" height="6.46" fill="#f28484"/>
<rect x="106.78" y="199.28" width="6.48" height="6.46" fill="#f28484"/>
<rect x="3.10" y="205.74" width="6.48" height="6.46" fill="#2c0cbc"/>
<rect x="9.58" y="205.74" width="6.48" height="6.46" fill="#8a88e6"/>
<rect x="16.06" y="205.74" width="6.48" height="6.46" fill="#8a88e6"/>
<rect x="22.54" y="205.74" width="6.48" height="6.46" fill="#8a88e6"/>
<rect x="29.02" y="205.74" width="6.48" height="6.46" fill="#8a88e6"/>
<rect x="35.50" y="205.74" width="6.48" height="6.46" fill="#2c0cbc"/>
<rect x="41.98" y="205.74" width="6.48" height="6.46" fill="#8a88e6"/>
<rect x="48.46" y="205.74" width="6.48" height="6.46" fill="#d6d6f8"/>
<rect x="54.94" y="205.74" width="6.48" height="6.46" fill="#2c0cbc"/>
<rect x="61.42" y="205.74" width="6.48" height="6.46" fill="#d4081a"/>
<rect x="67.90" y="205.74" width="6.48" height="6.46" fill="#8a88e6"/>
<rect x="74.38" y="205.74" width="6.48" height="6.46" fill="#ea5058"/>
<rect x="80.86" y="205.74" width="6.48" height="6.46" fill="#f28484"/>
<rect x="87.34" y="205.74" width="6.48" height="6.46" fill="#ea5058"/>
<rect x="93.82" y="205.74" width="6.48" height="6.46" fill="#ea5058"/>
<rect x="100.30" y="205.74" width="6.48" height="6.46" fill="#ea5058"/>
<rect x="106.78" y="205.74" width="6.48" height="6.46" fill="#ea5058"/>
<rect x="3.55" y="51.15" width="5.58" height="5.56" fill="none" stroke="#a80010" stroke-width="0.9"/>
<rect x="10.03" y="51.15" width="5.58" height="5.56" fill="none" stroke="#bc2030" stroke-width="0.9"/>
<rect x="16.51" y="51.15" width="5.58" height="5.56" fill="none" stroke="#b41020" stroke-width="0.9"/>
<rect x="22.99" y="51.15" width="5.58" height="5.56" fill="none" stroke="#bc2030" stroke-width="0.9"/>
<rect x="29.47" y="51.15" width="5.58" height="5.56" fill="none" stroke="#b41020" stroke-width="0.9"/>
<rect x="35.95" y="51.15" width="5.58" height="5.56" fill="none" stroke="#c43a44" stroke-width="0.9"/>
<rect x="42.43" y="51.15" width="5.58" height="5.56" fill="none" stroke="#a80010" stroke-width="0.9"/>
<rect x="48.91" y="51.15" width="5.58" height="5.56" fill="none" stroke="#9c9cd4" stroke-width="0.9"/>
<rect x="55.39" y="51.15" width="5.58" height="5.56" fill="none" stroke="#c43a44" stroke-width="0.9"/>
<rect x="61.87" y="51.15" width="5.58" height="5.56" fill="none" stroke="#1a0488" stroke-width="0.9"/>
<rect x="68.35" y="51.15" width="5.58" height="5.56" fill="none" stroke="#2c1c9c" stroke-width="0.9"/>
<rect x="74.83" y="51.15" width="5.58" height="5.56" fill="none" stroke="#1a0488" stroke-width="0.9"/>
<rect x="81.31" y="51.15" width="5.58" height="5.56" fill="none" stroke="#5a56b8" stroke-width="0.9"/>
<rect x="87.79" y="51.15" width="5.58" height="5.56" fill="none" stroke="#9c9cd4" stroke-width="0.9"/>
<rect x="94.27" y="51.15" width="5.58" height="5.56" fill="none" stroke="#2c1c9c" stroke-width="0.9"/>
<rect x="100.75" y="51.15" width="5.58" height="5.56" fill="none" stroke="#1a0488" stroke-width="0.9"/>
<rect x="107.23" y="51.15" width="5.58" height="5.56" fill="none" stroke="#1a0488" stroke-width="0.9"/>
<rect x="3.55" y="57.61" width="5.58" height="5.56" fill="none" stroke="#a80010" stroke-width="0.9"/>
<rect x="10.03" y="57.61" width="5.58" height="5.56" fill="none" stroke="#b41020" stroke-width="0.9"/>
<rect x="16.51" y="57.61" width="5.58" height="5.56" fill="none" stroke="#b41020" stroke-width="0.9"/>
<rect x="22.99" y="57.61" width="5.58" height="5.56" fill="none" stroke="#bc2030" stroke-width="0.9"/>
<rect x="29.47" y="57.61" width="5.58" height="5.56" fill="none" stroke="#b41020" stroke-width="0.9"/>
<rect x="35.95" y="57.61" width="5.58" height="5.56" fill="none" stroke="#bc2030" stroke-width="0.9"/>
<rect x="42.43" y="57.61" width="5.58" height="5.56" fill="none" stroke="#bc2030" stroke-width="0.9"/>
<rect x="48.91" y="57.61" width="5.58" height="5.56" fill="none" stroke="#9c9cd4" stroke-width="0.9"/>
<rect x="55.39" y="57.61" width="5.58" height="5.56" fill="none" stroke="#bc2030" stroke-width="0.9"/>
<rect x="61.87" y="57.61" width="5.58" height="5.56" fill="none" stroke="#1a0488" stroke-width="0.9"/>
<rect x="68.35" y="57.61" width="5.58" height="5.56" fill="none" stroke="#9c9cd4" stroke-width="0.9"/>
<rect x="74.83" y="57.61" width="5.58" height="5.56" fill="none" stroke="#2c1c9c" stroke-width="0.9"/>
<rect x="81.31" y="57.61" width="5.58" height="5.56" fill="none" stroke="#9c9cd4" stroke-width="0.9"/>
<rect x="87.79" y="57.61" width="5.58" height="5.56" fill="none" stroke="#9c9cd4" stroke-width="0.9"/>
<rect x="94.27" y="57.61" width="5.58" height="5.56" fill="none" stroke="#9c9cd4" stroke-width="0.9"/>
<rect x="100.75" y="57.61" width="5.58" height="5.56" fill="none" stroke="#1a0488" stroke-width="0.9"/>
<rect x="107.23" y="57.61" width="5.58" height="5.56" fill="none" stroke="#1a0488" stroke-width="0.9"/>
<rect x="3.55" y="64.07" width="5.58" height="5.56" fill="none" stroke="#c43a44" stroke-width="0.9"/>
<rect x="10.03" y="64.07" width="5.58" height="5.56" fill="none" stroke="#c43a44" stroke-width="0.9"/>
<rect x="16.51" y="64.07" width="5.58" height="5.56" fill="none" stroke="#a80010" stroke-width="0.9"/>
<rect x="22.99" y="64.07" width="5.58" height="5.56" fill="none" stroke="#bc2030" stroke-width="0.9"/>
<rect x="29.47" y="64.07" width="5.58" height="5.56" fill="none" stroke="#d09098" stroke-width="0.9"/>
<rect x="35.95" y="64.07" width="5.58" height="5.56" fill="none" stroke="#bc2030" stroke-width="0.9"/>
<rect x="42.43" y="64.07" width="5.58" height="5.56" fill="none" stroke="#bc2030" stroke-width="0.9"/>
<rect x="48.91" y="64.07" width="5.58" height="5.56" fill="none" stroke="#bc2030" stroke-width="0.9"/>
<rect x="55.39" y="64.07" width="5.58" height="5.56" fill="none" stroke="#a80010" stroke-width="0.9"/>
<rect x="61.87" y="64.07" width="5.58" height="5.56" fill="none" stroke="#5a56b8" stroke-width="0.9"/>
<rect x="68.35" y="64.07" width="5.58" height="5.56" fill="none" stroke="#9c9cd4" stroke-width="0.9"/>
<rect x="74.83" y="64.07" width="5.58" height="5.56" fill="none" stroke="#5a56b8" stroke-width="0.9"/>
<rect x="81.31" y="64.07" width="5.58" height="5.56" fill="none" stroke="#1a0488" stroke-width="0.9"/>
<rect x="87.79" y="64.07" width="5.58" height="5.56" fill="none" stroke="#1a0488" stroke-width="0.9"/>
<rect x="94.27" y="64.07" width="5.58" height="5.56" fill="none" stroke="#1a0488" stroke-width="0.9"/>
<rect x="100.75" y="64.07" width="5.58" height="5.56" fill="none" stroke="#1a0488" stroke-width="0.9"/>
<rect x="107.23" y="64.07" width="5.58" height="5.56" fill="none" stroke="#5a56b8" stroke-width="0.9"/>
<rect x="3.55" y="70.53" width="5.58" height="5.56" fill="none" stroke="#c43a44" stroke-width="0.9"/>
<rect x="10.03" y="70.53" width="5.58" height="5.56" fill="none" stroke="#c43a44" stroke-width="0.9"/>
<rect x="16.51" y="70.53" width="5.58" height="5.56" fill="none" stroke="#a80010" stroke-width="0.9"/>
<rect x="22.99" y="70.53" width="5.58" height="5.56" fill="none" stroke="#b41020" stroke-width="0.9"/>
<rect x="29.47" y="70.53" width="5.58" height="5.56" fill="none" stroke="#bc2030" stroke-width="0.9"/>
<rect x="35.95" y="70.53" width="5.58" height="5.56" fill="none" stroke="#bc2030" stroke-width="0.9"/>
<rect x="42.43" y="70.53" width="5.58" height="5.56" fill="none" stroke="#c43a44" stroke-width="0.9"/>
<rect x="48.91" y="70.53" width="5.58" height="5.56" fill="none" stroke="#b41020" stroke-width="0.9"/>
<rect x="55.39" y="70.53" width="5.58" height="5.56" fill="none" stroke="#a80010" stroke-width="0.9"/>
<rect x="61.87" y="70.53" width="5.58" height="5.56" fill="none" stroke="#5a56b8" stroke-width="0.9"/>
<rect x="68.35" y="70.53" width="5.58" height="5.56" fill="none" stroke="#c43a44" stroke-width="0.9"/>
<rect x="74.83" y="70.53" width="5.58" height="5.56" fill="none" stroke="#5a56b8" stroke-width="0.9"/>
<rect x="81.31" y="70.53" width="5.58" height="5.56" fill="none" stroke="#5a56b8" stroke-width="0.9"/>
<rect x="87.79" y="70.53" width="5.58" height="5.56" fill="none" stroke="#2c1c9c" stroke-width="0.9"/>
<rect x="94.27" y="70.53" width="5.58" height="5.56" fill="none" stroke="#1a0488" stroke-width="0.9"/>
<rect x="100.75" y="70.53" width="5.58" height="5.56" fill="none" stroke="#1a0488" stroke-width="0.9"/>
<rect x="107.23" y="70.53" width="5.58" height="5.56" fill="none" stroke="#2c1c9c" stroke-width="0.9"/>
<rect x="3.55" y="76.99" width="5.58" height="5.56" fill="none" stroke="#a80010" stroke-width="0.9"/>
<rect x="10.03" y="76.99" width="5.58" height="5.56" fill="none" stroke="#a80010" stroke-width="0.9"/>
<rect x="16.51" y="76.99" width="5.58" height="5.56" fill="none" stroke="#a80010" stroke-width="0.9"/>
<rect x="22.99" y="76.99" width="5.58" height="5.56" fill="none" stroke="#c43a44" stroke-width="0.9"/>
<rect x="29.47" y="76.99" width="5.58" height="5.56" fill="none" stroke="#a80010" stroke-width="0.9"/>
<rect x="35.95" y="76.99" width="5.58" height="5.56" fill="none" stroke="#c43a44" stroke-width="0.9"/>
<rect x="42.43" y="76.99" width="5.58" height="5.56" fill="none" stroke="#bc2030" stroke-width="0.9"/>
<rect x="48.91" y="76.99" width="5.58" height="5.56" fill="none" stroke="#9c9cd4" stroke-width="0.9"/>
<rect x="55.39" y="76.99" width="5.58" height="5.56" fill="none" stroke="#c43a44" stroke-width="0.9"/>
<rect x="61.87" y="76.99" width="5.58" height="5.56" fill="none" stroke="#1a0488" stroke-width="0.9"/>
<rect x="68.35" y="76.99" width="5.58" height="5.56" fill="none" stroke="#2c1c9c" stroke-width="0.9"/>
<rect x="74.83" y="76.99" width="5.58" height="5.56" fill="none" stroke="#5a56b8" stroke-width="0.9"/>
<rect x="81.31" y="76.99" width="5.58" height="5.56" fill="none" stroke="#5a56b8" stroke-width="0.9"/>
<rect x="87.79" y="76.99" width="5.58" height="5.56" fill="none" stroke="#1a0488" stroke-width="0.9"/>
<rect x="94.27" y="76.99" width="5.58" height="5.56" fill="none" stroke="#1a0488" stroke-width="0.9"/>
<rect x="100.75" y="76.99" width="5.58" height="5.56" fill="none" stroke="#1a0488" stroke-width="0.9"/>
<rect x="107.23" y="76.99" width="5.58" height="5.56" fill="none" stroke="#1a0488" stroke-width="0.9"/>
<rect x="3.55" y="83.45" width="5.58" height="5.56" fill="none" stroke="#c43a44" stroke-width="0.9"/>
<rect x="10.03" y="83.45" width="5.58" height="5.56" fill="none" stroke="#c43a44" stroke-width="0.9"/>
<rect x="16.51" y="83.45" width="5.58" height="5.56" fill="none" stroke="#bc2030" stroke-width="0.9"/>
<rect x="22.99" y="83.45" width="5.58" height="5.56" fill="none" stroke="#a80010" stroke-width="0.9"/>
<rect x="29.47" y="83.45" width="5.58" height="5.56" fill="none" stroke="#c43a44" stroke-width="0.9"/>
<rect x="35.95" y="83.45" width="5.58" height="5.56" fill="none" stroke="#a80010" stroke-width="0.9"/>
<rect x="42.43" y="83.45" width="5.58" height="5.56" fill="none" stroke="#c43a44" stroke-width="0.9"/>
<rect x="48.91" y="83.45" width="5.58" height="5.56" fill="none" stroke="#a80010" stroke-width="0.9"/>
<rect x="55.39" y="83.45" width="5.58" height="5.56" fill="none" stroke="#c43a44" stroke-width="0.9"/>
<rect x="61.87" y="83.45" width="5.58" height="5.56" fill="none" stroke="#1a0488" stroke-width="0.9"/>
<rect x="68.35" y="83.45" width="5.58" height="5.56" fill="none" stroke="#9c9cd4" stroke-width="0.9"/>
<rect x="74.83" y="83.45" width="5.58" height="5.56" fill="none" stroke="#1a0488" stroke-width="0.9"/>
<rect x="81.31" y="83.45" width="5.58" height="5.56" fill="none" stroke="#5a56b8" stroke-width="0.9"/>
<rect x="87.79" y="83.45" width="5.58" height="5.56" fill="none" stroke="#1a0488" stroke-width="0.9"/>
<rect x="94.27" y="83.45" width="5.58" height="5.56" fill="none" stroke="#9c9cd4" stroke-width="0.9"/>
<rect x="100.75" y="83.45" width="5.58" height="5.56" fill="none" stroke="#9c9cd4" stroke-width="0.9"/>
<rect x="107.23" y="83.45" width="5.58" height="5.56" fill="none" stroke="#5a56b8" stroke-width="0.9"/>
<rect x="3.55" y="89.91" width="5.58" height="5.56" fill="none" stroke="#d09098" stroke-width="0.9"/>
<rect x="10.03" y="89.91" width="5.58" height="5.56" fill="none" stroke="#a80010" stroke-width="0.9"/>
<rect x="16.51" y="89.91" width="5.58" height="5.56" fill="none" stroke="#bc2030" stroke-width="0.9"/>
<rect x="22.99" y="89.91" width="5.58" height="5.56" fill="none" stroke="#bc2030" stroke-width="0.9"/>
<rect x="29.47" y="89.91" width="5.58" height="5.56" fill="none" stroke="#c43a44" stroke-width="0.9"/>
<rect x="35.95" y="89.91" width="5.58" height="5.56" fill="none" stroke="#bc2030" stroke-width="0.9"/>
<rect x="42.43" y="89.91" width="5.58" height="5.56" fill="none" stroke="#c43a44" stroke-width="0.9"/>
<rect x="48.91" y="89.91" width="5.58" height="5.56" fill="none" stroke="#9c9cd4" stroke-width="0.9"/>
<rect x="55.39" y="89.91" width="5.58" height="5.56" fill="none" stroke="#bc2030" stroke-width="0.9"/>
<rect x="61.87" y="89.91" width="5.58" height="5.56" fill="none" stroke="#1a0488" stroke-width="0.9"/>
<rect x="68.35" y="89.91" width="5.58" height="5.56" fill="none" stroke="#5a56b8" stroke-width="0.9"/>
<rect x="74.83" y="89.91" width="5.58" height="5.56" fill="none" stroke="#1a0488" stroke-width="0.9"/>
<rect x="81.31" y="89.91" width="5.58" height="5.56" fill="none" stroke="#1a0488" stroke-width="0.9"/>
<rect x="87.79" y="89.91" width="5.58" height="5.56" fill="none" stroke="#1a0488" stroke-width="0.9"/>
<rect x="94.27" y="89.91" width="5.58" height="5.56" fill="none" stroke="#1a0488" stroke-width="0.9"/>
<rect x="100.75" y="89.91" width="5.58" height="5.56" fill="none" stroke="#9c9cd4" stroke-width="0.9"/>
<rect x="107.23" y="89.91" width="5.58" height="5.56" fill="none" stroke="#2c1c9c" stroke-width="0.9"/>
<rect x="3.55" y="96.37" width="5.58" height="5.56" fill="none" stroke="#c43a44" stroke-width="0.9"/>
<rect x="10.03" y="96.37" width="5.58" height="5.56" fill="none" stroke="#c43a44" stroke-width="0.9"/>
<rect x="16.51" y="96.37" width="5.58" height="5.56" fill="none" stroke="#c43a44" stroke-width="0.9"/>
<rect x="22.99" y="96.37" width="5.58" height="5.56" fill="none" stroke="#a80010" stroke-width="0.9"/>
<rect x="29.47" y="96.37" width="5.58" height="5.56" fill="none" stroke="#d09098" stroke-width="0.9"/>
<rect x="35.95" y="96.37" width="5.58" height="5.56" fill="none" stroke="#bc2030" stroke-width="0.9"/>
<rect x="42.43" y="96.37" width="5.58" height="5.56" fill="none" stroke="#9c9cd4" stroke-width="0.9"/>
<rect x="48.91" y="96.37" width="5.58" height="5.56" fill="none" stroke="#b41020" stroke-width="0.9"/>
<rect x="55.39" y="96.37" width="5.58" height="5.56" fill="none" stroke="#bc2030" stroke-width="0.9"/>
<rect x="61.87" y="96.37" width="5.58" height="5.56" fill="none" stroke="#5a56b8" stroke-width="0.9"/>
<rect x="68.35" y="96.37" width="5.58" height="5.56" fill="none" stroke="#9c9cd4" stroke-width="0.9"/>
<rect x="74.83" y="96.37" width="5.58" height="5.56" fill="none" stroke="#1a0488" stroke-width="0.9"/>
<rect x="81.31" y="96.37" width="5.58" height="5.56" fill="none" stroke="#5a56b8" stroke-width="0.9"/>
<rect x="87.79" y="96.37" width="5.58" height="5.56" fill="none" stroke="#1a0488" stroke-width="0.9"/>
<rect x="94.27" y="96.37" width="5.58" height="5.56" fill="none" stroke="#9c9cd4" stroke-width="0.9"/>
<rect x="100.75" y="96.37" width="5.58" height="5.56" fill="none" stroke="#2c1c9c" stroke-width="0.9"/>
<rect x="107.23" y="96.37" width="5.58" height="5.56" fill="none" stroke="#1a0488" stroke-width="0.9"/>
<rect x="3.55" y="102.83" width="5.58" height="5.56" fill="none" stroke="#bc2030" stroke-width="0.9"/>
<rect x="10.03" y="102.83" width="5.58" height="5.56" fill="none" stroke="#bc2030" stroke-width="0.9"/>
<rect x="16.51" y="102.83" width="5.58" height="5.56" fill="none" stroke="#a80010" stroke-width="0.9"/>
<rect x="22.99" y="102.83" width="5.58" height="5.56" fill="none" stroke="#c43a44" stroke-width="0.9"/>
<rect x="29.47" y="102.83" width="5.58" height="5.56" fill="none" stroke="#b41020" stroke-width="0.9"/>
<rect x="35.95" y="102.83" width="5.58" height="5.56" fill="none" stroke="#bc2030" stroke-width="0.9"/>
<rect x="42.43" y="102.83" width="5.58" height="5.56" fill="none" stroke="#d09098" stroke-width="0.9"/>
<rect x="48.91" y="102.83" width="5.58" height="5.56" fill="none" stroke="#d09098" stroke-width="0.9"/>
<rect x="55.39" y="102.83" width="5.58" height="5.56" fill="none" stroke="#bc2030" stroke-width="0.9"/>
<rect x="61.87" y="102.83" width="5.58" height="5.56" fill="none" stroke="#9c9cd4" stroke-width="0.9"/>
<rect x="68.35" y="102.83" width="5.58" height="5.56" fill="none" stroke="#1a0488" stroke-width="0.9"/>
<rect x="74.83" y="102.83" width="5.58" height="5.56" fill="none" stroke="#5a56b8" stroke-width="0.9"/>
<rect x="81.31" y="102.83" width="5.58" height="5.56" fill="none" stroke="#5a56b8" stroke-width="0.9"/>
<rect x="87.79" y="102.83" width="5.58" height="5.56" fill="none" stroke="#1a0488" stroke-width="0.9"/>
<rect x="94.27" y="102.83" width="5.58" height="5.56" fill="none" stroke="#1a0488" stroke-width="0.9"/>
<rect x="100.75" y="102.83" width="5.58" height="5.56" fill="none" stroke="#9c9cd4" stroke-width="0.9"/>
<rect x="107.23" y="102.83" width="5.58" height="5.56" fill="none" stroke="#5a56b8" stroke-width="0.9"/>
<rect x="3.55" y="109.29" width="5.58" height="5.56" fill="none" stroke="#c43a44" stroke-width="0.9"/>
<rect x="10.03" y="109.29" width="5.58" height="5.56" fill="none" stroke="#bc2030" stroke-width="0.9"/>
<rect x="16.51" y="109.29" width="5.58" height="5.56" fill="none" stroke="#bc2030" stroke-width="0.9"/>
<rect x="22.99" y="109.29" width="5.58" height="5.56" fill="none" stroke="#bc2030" stroke-width="0.9"/>
<rect x="29.47" y="109.29" width="5.58" height="5.56" fill="none" stroke="#c43a44" stroke-width="0.9"/>
<rect x="35.95" y="109.29" width="5.58" height="5.56" fill="none" stroke="#c43a44" stroke-width="0.9"/>
<rect x="42.43" y="109.29" width="5.58" height="5.56" fill="none" stroke="#bc2030" stroke-width="0.9"/>
<rect x="48.91" y="109.29" width="5.58" height="5.56" fill="none" stroke="#9c9cd4" stroke-width="0.9"/>
<rect x="55.39" y="109.29" width="5.58" height="5.56" fill="none" stroke="#bc2030" stroke-width="0.9"/>
<rect x="61.87" y="109.29" width="5.58" height="5.56" fill="none" stroke="#2c1c9c" stroke-width="0.9"/>
<rect x="68.35" y="109.29" width="5.58" height="5.56" fill="none" stroke="#5a56b8" stroke-width="0.9"/>
<rect x="74.83" y="109.29" width="5.58" height="5.56" fill="none" stroke="#d09098" stroke-width="0.9"/>
<rect x="81.31" y="109.29" width="5.58" height="5.56" fill="none" stroke="#1a0488" stroke-width="0.9"/>
<rect x="87.79" y="109.29" width="5.58" height="5.56" fill="none" stroke="#1a0488" stroke-width="0.9"/>
<rect x="94.27" y="109.29" width="5.58" height="5.56" fill="none" stroke="#1a0488" stroke-width="0.9"/>
<rect x="100.75" y="109.29" width="5.58" height="5.56" fill="none" stroke="#1a0488" stroke-width="0.9"/>
<rect x="107.23" y="109.29" width="5.58" height="5.56" fill="none" stroke="#2c1c9c" stroke-width="0.9"/>
<rect x="3.55" y="115.75" width="5.58" height="5.56" fill="none" stroke="#a80010" stroke-width="0.9"/>
<rect x="10.03" y="115.75" width="5.58" height="5.56" fill="none" stroke="#c43a44" stroke-width="0.9"/>
<rect x="16.51" y="115.75" width="5.58" height="5.56" fill="none" stroke="#c43a44" stroke-width="0.9"/>
<rect x="22.99" y="115.75" width="5.58" height="5.56" fill="none" stroke="#c43a44" stroke-width="0.9"/>
<rect x="29.47" y="115.75" width="5.58" height="5.56" fill="none" stroke="#c43a44" stroke-width="0.9"/>
<rect x="35.95" y="115.75" width="5.58" height="5.56" fill="none" stroke="#a80010" stroke-width="0.9"/>
<rect x="42.43" y="115.75" width="5.58" height="5.56" fill="none" stroke="#c43a44" stroke-width="0.9"/>
<rect x="48.91" y="115.75" width="5.58" height="5.56" fill="none" stroke="#c43a44" stroke-width="0.9"/>
<rect x="55.39" y="115.75" width="5.58" height="5.56" fill="none" stroke="#d09098" stroke-width="0.9"/>
<rect x="61.87" y="115.75" width="5.58" height="5.56" fill="none" stroke="#1a0488" stroke-width="0.9"/>
<rect x="68.35" y="115.75" width="5.58" height="5.56" fill="none" stroke="#1a0488" stroke-width="0.9"/>
<rect x="74.83" y="115.75" width="5.58" height="5.56" fill="none" stroke="#1a0488" stroke-width="0.9"/>
<rect x="81.31" y="115.75" width="5.58" height="5.56" fill="none" stroke="#5a56b8" stroke-width="0.9"/>
<rect x="87.79" y="115.75" width="5.58" height="5.56" fill="none" stroke="#5a56b8" stroke-width="0.9"/>
<rect x="94.27" y="115.75" width="5.58" height="5.56" fill="none" stroke="#5a56b8" stroke-width="0.9"/>
<rect x="100.75" y="115.75" width="5.58" height="5.56" fill="none" stroke="#5a56b8" stroke-width="0.9"/>
<rect x="107.23" y="115.75" width="5.58" height="5.56" fill="none" stroke="#1a0488" stroke-width="0.9"/>
<rect x="3.55" y="122.21" width="5.58" height="5.56" fill="none" stroke="#c43a44" stroke-width="0.9"/>
<rect x="10.03" y="122.21" width="5.58" height="5.56" fill="none" stroke="#c43a44" stroke-width="0.9"/>
<rect x="16.51" y="122.21" width="5.58" height="5.56" fill="none" stroke="#d09098" stroke-width="0.9"/>
<rect x="22.99" y="122.21" width="5.58" height="5.56" fill="none" stroke="#bc2030" stroke-width="0.9"/>
<rect x="29.47" y="122.21" width="5.58" height="5.56" fill="none" stroke="#d09098" stroke-width="0.9"/>
<rect x="35.95" y="122.21" width="5.58" height="5.56" fill="none" stroke="#c43a44" stroke-width="0.9"/>
<rect x="42.43" y="122.21" width="5.58" height="5.56" fill="none" stroke="#bc2030" stroke-width="0.9"/>
<rect x="48.91" y="122.21" width="5.58" height="5.56" fill="none" stroke="#a80010" stroke-width="0.9"/>
<rect x="55.39" y="122.21" width="5.58" height="5.56" fill="none" stroke="#bc2030" stroke-width="0.9"/>
<rect x="61.87" y="122.21" width="5.58" height="5.56" fill="none" stroke="#5a56b8" stroke-width="0.9"/>
<rect x="68.35" y="122.21" width="5.58" height="5.56" fill="none" stroke="#9c9cd4" stroke-width="0.9"/>
<rect x="74.83" y="122.21" width="5.58" height="5.56" fill="none" stroke="#2c1c9c" stroke-width="0.9"/>
<rect x="81.31" y="122.21" width="5.58" height="5.56" fill="none" stroke="#9c9cd4" stroke-width="0.9"/>
<rect x="87.79" y="122.21" width="5.58" height="5.56" fill="none" stroke="#1a0488" stroke-width="0.9"/>
<rect x="94.27" y="122.21" width="5.58" height="5.56" fill="none" stroke="#5a56b8" stroke-width="0.9"/>
<rect x="100.75" y="122.21" width="5.58" height="5.56" fill="none" stroke="#5a56b8" stroke-width="0.9"/>
<rect x="107.23" y="122.21" width="5.58" height="5.56" fill="none" stroke="#5a56b8" stroke-width="0.9"/>
<rect x="3.55" y="128.67" width="5.58" height="5.56" fill="none" stroke="#1a0488" stroke-width="0.9"/>
<rect x="10.03" y="128.67" width="5.58" height="5.56" fill="none" stroke="#5a56b8" stroke-width="0.9"/>
<rect x="16.51" y="128.67" width="5.58" height="5.56" fill="none" stroke="#1a0488" stroke-width="0.9"/>
<rect x="22.99" y="128.67" width="5.58" height="5.56" fill="none" stroke="#1a0488" stroke-width="0.9"/>
<rect x="29.47" y="128.67" width="5.58" height="5.56" fill="none" stroke="#1a0488" stroke-width="0.9"/>
<rect x="35.95" y="128.67" width="5.58" height="5.56" fill="none" stroke="#1a0488" stroke-width="0.9"/>
<rect x="42.43" y="128.67" width="5.58" height="5.56" fill="none" stroke="#5a56b8" stroke-width="0.9"/>
<rect x="48.91" y="128.67" width="5.58" height="5.56" fill="none" stroke="#2c1c9c" stroke-width="0.9"/>
<rect x="55.39" y="128.67" width="5.58" height="5.56" fill="none" stroke="#5a56b8" stroke-width="0.9"/>
<rect x="61.87" y="128.67" width="5.58" height="5.56" fill="none" stroke="#a80010" stroke-width="0.9"/>
<rect x="68.35" y="128.67" width="5.58" height="5.56" fill="none" stroke="#5a56b8" stroke-width="0.9"/>
<rect x="74.83" y="128.67" width="5.58" height="5.56" fill="none" stroke="#c43a44" stroke-width="0.9"/>
<rect x="81.31" y="128.67" width="5.58" height="5.56" fill="none" stroke="#b41020" stroke-width="0.9"/>
<rect x="87.79" y="128.67" width="5.58" height="5.56" fill="none" stroke="#bc2030" stroke-width="0.9"/>
<rect x="94.27" y="128.67" width="5.58" height="5.56" fill="none" stroke="#a80010" stroke-width="0.9"/>
<rect x="100.75" y="128.67" width="5.58" height="5.56" fill="none" stroke="#a80010" stroke-width="0.9"/>
<rect x="107.23" y="128.67" width="5.58" height="5.56" fill="none" stroke="#bc2030" stroke-width="0.9"/>
<rect x="3.55" y="135.13" width="5.58" height="5.56" fill="none" stroke="#1a0488" stroke-width="0.9"/>
<rect x="10.03" y="135.13" width="5.58" height="5.56" fill="none" stroke="#5a56b8" stroke-width="0.9"/>
<rect x="16.51" y="135.13" width="5.58" height="5.56" fill="none" stroke="#1a0488" stroke-width="0.9"/>
<rect x="22.99" y="135.13" width="5.58" height="5.56" fill="none" stroke="#5a56b8" stroke-width="0.9"/>
<rect x="29.47" y="135.13" width="5.58" height="5.56" fill="none" stroke="#5a56b8" stroke-width="0.9"/>
<rect x="35.95" y="135.13" width="5.58" height="5.56" fill="none" stroke="#9c9cd4" stroke-width="0.9"/>
<rect x="42.43" y="135.13" width="5.58" height="5.56" fill="none" stroke="#1a0488" stroke-width="0.9"/>
<rect x="48.91" y="135.13" width="5.58" height="5.56" fill="none" stroke="#1a0488" stroke-width="0.9"/>
<rect x="55.39" y="135.13" width="5.58" height="5.56" fill="none" stroke="#d09098" stroke-width="0.9"/>
<rect x="61.87" y="135.13" width="5.58" height="5.56" fill="none" stroke="#bc2030" stroke-width="0.9"/>
<rect x="68.35" y="135.13" width="5.58" height="5.56" fill="none" stroke="#bc2030" stroke-width="0.9"/>
<rect x="74.83" y="135.13" width="5.58" height="5.56" fill="none" stroke="#c43a44" stroke-width="0.9"/>
<rect x="81.31" y="135.13" width="5.58" height="5.56" fill="none" stroke="#d09098" stroke-width="0.9"/>
<rect x="87.79" y="135.13" width="5.58" height="5.56" fill="none" stroke="#a80010" stroke-width="0.9"/>
<rect x="94.27" y="135.13" width="5.58" height="5.56" fill="none" stroke="#bc2030" stroke-width="0.9"/>
<rect x="100.75" y="135.13" width="5.58" height="5.56" fill="none" stroke="#bc2030" stroke-width="0.9"/>
<rect x="107.23" y="135.13" width="5.58" height="5.56" fill="none" stroke="#c43a44" stroke-width="0.9"/>
<rect x="3.55" y="141.59" width="5.58" height="5.56" fill="none" stroke="#9c9cd4" stroke-width="0.9"/>
<rect x="10.03" y="141.59" width="5.58" height="5.56" fill="none" stroke="#1a0488" stroke-width="0.9"/>
<rect x="16.51" y="141.59" width="5.58" height="5.56" fill="none" stroke="#5a56b8" stroke-width="0.9"/>
<rect x="22.99" y="141.59" width="5.58" height="5.56" fill="none" stroke="#1a0488" stroke-width="0.9"/>
<rect x="29.47" y="141.59" width="5.58" height="5.56" fill="none" stroke="#1a0488" stroke-width="0.9"/>
<rect x="35.95" y="141.59" width="5.58" height="5.56" fill="none" stroke="#1a0488" stroke-width="0.9"/>
<rect x="42.43" y="141.59" width="5.58" height="5.56" fill="none" stroke="#5a56b8" stroke-width="0.9"/>
<rect x="48.91" y="141.59" width="5.58" height="5.56" fill="none" stroke="#1a0488" stroke-width="0.9"/>
<rect x="55.39" y="141.59" width="5.58" height="5.56" fill="none" stroke="#9c9cd4" stroke-width="0.9"/>
<rect x="61.87" y="141.59" width="5.58" height="5.56" fill="none" stroke="#a80010" stroke-width="0.9"/>
<rect x="68.35" y="141.59" width="5.58" height="5.56" fill="none" stroke="#9c9cd4" stroke-width="0.9"/>
<rect x="74.83" y="141.59" width="5.58" height="5.56" fill="none" stroke="#b41020" stroke-width="0.9"/>
<rect x="81.31" y="141.59" width="5.58" height="5.56" fill="none" stroke="#a80010" stroke-width="0.9"/>
<rect x="87.79" y="141.59" width="5.58" height="5.56" fill="none" stroke="#bc2030" stroke-width="0.9"/>
<rect x="94.27" y="141.59" width="5.58" height="5.56" fill="none" stroke="#bc2030" stroke-width="0.9"/>
<rect x="100.75" y="141.59" width="5.58" height="5.56" fill="none" stroke="#c43a44" stroke-width="0.9"/>
<rect x="107.23" y="141.59" width="5.58" height="5.56" fill="none" stroke="#c43a44" stroke-width="0.9"/>
<rect x="3.55" y="148.05" width="5.58" height="5.56" fill="none" stroke="#2c1c9c" stroke-width="0.9"/>
<rect x="10.03" y="148.05" width="5.58" height="5.56" fill="none" stroke="#5a56b8" stroke-width="0.9"/>
<rect x="16.51" y="148.05" width="5.58" height="5.56" fill="none" stroke="#1a0488" stroke-width="0.9"/>
<rect x="22.99" y="148.05" width="5.58" height="5.56" fill="none" stroke="#1a0488" stroke-width="0.9"/>
<rect x="29.47" y="148.05" width="5.58" height="5.56" fill="none" stroke="#9c9cd4" stroke-width="0.9"/>
<rect x="35.95" y="148.05" width="5.58" height="5.56" fill="none" stroke="#5a56b8" stroke-width="0.9"/>
<rect x="42.43" y="148.05" width="5.58" height="5.56" fill="none" stroke="#5a56b8" stroke-width="0.9"/>
<rect x="48.91" y="148.05" width="5.58" height="5.56" fill="none" stroke="#2c1c9c" stroke-width="0.9"/>
<rect x="55.39" y="148.05" width="5.58" height="5.56" fill="none" stroke="#1a0488" stroke-width="0.9"/>
<rect x="61.87" y="148.05" width="5.58" height="5.56" fill="none" stroke="#c43a44" stroke-width="0.9"/>
<rect x="68.35" y="148.05" width="5.58" height="5.56" fill="none" stroke="#9c9cd4" stroke-width="0.9"/>
<rect x="74.83" y="148.05" width="5.58" height="5.56" fill="none" stroke="#bc2030" stroke-width="0.9"/>
<rect x="81.31" y="148.05" width="5.58" height="5.56" fill="none" stroke="#bc2030" stroke-width="0.9"/>
<rect x="87.79" y="148.05" width="5.58" height="5.56" fill="none" stroke="#c43a44" stroke-width="0.9"/>
<rect x="94.27" y="148.05" width="5.58" height="5.56" fill="none" stroke="#a80010" stroke-width="0.9"/>
<rect x="100.75" y="148.05" width="5.58" height="5.56" fill="none" stroke="#bc2030" stroke-width="0.9"/>
<rect x="107.23" y="148.05" width="5.58" height="5.56" fill="none" stroke="#a80010" stroke-width="0.9"/>
<rect x="3.55" y="154.51" width="5.58" height="5.56" fill="none" stroke="#1a0488" stroke-width="0.9"/>
<rect x="10.03" y="154.51" width="5.58" height="5.56" fill="none" stroke="#1a0488" stroke-width="0.9"/>
<rect x="16.51" y="154.51" width="5.58" height="5.56" fill="none" stroke="#1a0488" stroke-width="0.9"/>
<rect x="22.99" y="154.51" width="5.58" height="5.56" fill="none" stroke="#1a0488" stroke-width="0.9"/>
<rect x="29.47" y="154.51" width="5.58" height="5.56" fill="none" stroke="#1a0488" stroke-width="0.9"/>
<rect x="35.95" y="154.51" width="5.58" height="5.56" fill="none" stroke="#1a0488" stroke-width="0.9"/>
<rect x="42.43" y="154.51" width="5.58" height="5.56" fill="none" stroke="#9c9cd4" stroke-width="0.9"/>
<rect x="48.91" y="154.51" width="5.58" height="5.56" fill="none" stroke="#9c9cd4" stroke-width="0.9"/>
<rect x="55.39" y="154.51" width="5.58" height="5.56" fill="none" stroke="#5a56b8" stroke-width="0.9"/>
<rect x="61.87" y="154.51" width="5.58" height="5.56" fill="none" stroke="#bc2030" stroke-width="0.9"/>
<rect x="68.35" y="154.51" width="5.58" height="5.56" fill="none" stroke="#5a56b8" stroke-width="0.9"/>
<rect x="74.83" y="154.51" width="5.58" height="5.56" fill="none" stroke="#c43a44" stroke-width="0.9"/>
<rect x="81.31" y="154.51" width="5.58" height="5.56" fill="none" stroke="#bc2030" stroke-width="0.9"/>
<rect x="87.79" y="154.51" width="5.58" height="5.56" fill="none" stroke="#bc2030" stroke-width="0.9"/>
<rect x="94.27" y="154.51" width="5.58" height="5.56" fill="none" stroke="#b41020" stroke-width="0.9"/>
<rect x="100.75" y="154.51" width="5.58" height="5.56" fill="none" stroke="#bc2030" stroke-width="0.9"/>
<rect x="107.23" y="154.51" width="5.58" height="5.56" fill="none" stroke="#a80010" stroke-width="0.9"/>
<rect x="3.55" y="160.97" width="5.58" height="5.56" fill="none" stroke="#1a0488" stroke-width="0.9"/>
<rect x="10.03" y="160.97" width="5.58" height="5.56" fill="none" stroke="#1a0488" stroke-width="0.9"/>
<rect x="16.51" y="160.97" width="5.58" height="5.56" fill="none" stroke="#1a0488" stroke-width="0.9"/>
<rect x="22.99" y="160.97" width="5.58" height="5.56" fill="none" stroke="#1a0488" stroke-width="0.9"/>
<rect x="29.47" y="160.97" width="5.58" height="5.56" fill="none" stroke="#1a0488" stroke-width="0.9"/>
<rect x="35.95" y="160.97" width="5.58" height="5.56" fill="none" stroke="#1a0488" stroke-width="0.9"/>
<rect x="42.43" y="160.97" width="5.58" height="5.56" fill="none" stroke="#5a56b8" stroke-width="0.9"/>
<rect x="48.91" y="160.97" width="5.58" height="5.56" fill="none" stroke="#1a0488" stroke-width="0.9"/>
<rect x="55.39" y="160.97" width="5.58" height="5.56" fill="none" stroke="#1a0488" stroke-width="0.9"/>
<rect x="61.87" y="160.97" width="5.58" height="5.56" fill="none" stroke="#c43a44" stroke-width="0.9"/>
<rect x="68.35" y="160.97" width="5.58" height="5.56" fill="none" stroke="#1a0488" stroke-width="0.9"/>
<rect x="74.83" y="160.97" width="5.58" height="5.56" fill="none" stroke="#bc2030" stroke-width="0.9"/>
<rect x="81.31" y="160.97" width="5.58" height="5.56" fill="none" stroke="#c43a44" stroke-width="0.9"/>
<rect x="87.79" y="160.97" width="5.58" height="5.56" fill="none" stroke="#a80010" stroke-width="0.9"/>
<rect x="94.27" y="160.97" width="5.58" height="5.56" fill="none" stroke="#bc2030" stroke-width="0.9"/>
<rect x="100.75" y="160.97" width="5.58" height="5.56" fill="none" stroke="#bc2030" stroke-width="0.9"/>
<rect x="107.23" y="160.97" width="5.58" height="5.56" fill="none" stroke="#c43a44" stroke-width="0.9"/>
<rect x="3.55" y="167.43" width="5.58" height="5.56" fill="none" stroke="#1a0488" stroke-width="0.9"/>
<rect x="10.03" y="167.43" width="5.58" height="5.56" fill="none" stroke="#9c9cd4" stroke-width="0.9"/>
<rect x="16.51" y="167.43" width="5.58" height="5.56" fill="none" stroke="#1a0488" stroke-width="0.9"/>
<rect x="22.99" y="167.43" width="5.58" height="5.56" fill="none" stroke="#5a56b8" stroke-width="0.9"/>
<rect x="29.47" y="167.43" width="5.58" height="5.56" fill="none" stroke="#5a56b8" stroke-width="0.9"/>
<rect x="35.95" y="167.43" width="5.58" height="5.56" fill="none" stroke="#9c9cd4" stroke-width="0.9"/>
<rect x="42.43" y="167.43" width="5.58" height="5.56" fill="none" stroke="#1a0488" stroke-width="0.9"/>
<rect x="48.91" y="167.43" width="5.58" height="5.56" fill="none" stroke="#9c9cd4" stroke-width="0.9"/>
<rect x="55.39" y="167.43" width="5.58" height="5.56" fill="none" stroke="#1a0488" stroke-width="0.9"/>
<rect x="61.87" y="167.43" width="5.58" height="5.56" fill="none" stroke="#a80010" stroke-width="0.9"/>
<rect x="68.35" y="167.43" width="5.58" height="5.56" fill="none" stroke="#9c9cd4" stroke-width="0.9"/>
<rect x="74.83" y="167.43" width="5.58" height="5.56" fill="none" stroke="#bc2030" stroke-width="0.9"/>
<rect x="81.31" y="167.43" width="5.58" height="5.56" fill="none" stroke="#a80010" stroke-width="0.9"/>
<rect x="87.79" y="167.43" width="5.58" height="5.56" fill="none" stroke="#bc2030" stroke-width="0.9"/>
<rect x="94.27" y="167.43" width="5.58" height="5.56" fill="none" stroke="#bc2030" stroke-width="0.9"/>
<rect x="100.75" y="167.43" width="5.58" height="5.56" fill="none" stroke="#a80010" stroke-width="0.9"/>
<rect x="107.23" y="167.43" width="5.58" height="5.56" fill="none" stroke="#a80010" stroke-width="0.9"/>
<rect x="3.55" y="173.89" width="5.58" height="5.56" fill="none" stroke="#1a0488" stroke-width="0.9"/>
<rect x="10.03" y="173.89" width="5.58" height="5.56" fill="none" stroke="#2c1c9c" stroke-width="0.9"/>
<rect x="16.51" y="173.89" width="5.58" height="5.56" fill="none" stroke="#5a56b8" stroke-width="0.9"/>
<rect x="22.99" y="173.89" width="5.58" height="5.56" fill="none" stroke="#1a0488" stroke-width="0.9"/>
<rect x="29.47" y="173.89" width="5.58" height="5.56" fill="none" stroke="#5a56b8" stroke-width="0.9"/>
<rect x="35.95" y="173.89" width="5.58" height="5.56" fill="none" stroke="#1a0488" stroke-width="0.9"/>
<rect x="42.43" y="173.89" width="5.58" height="5.56" fill="none" stroke="#1a0488" stroke-width="0.9"/>
<rect x="48.91" y="173.89" width="5.58" height="5.56" fill="none" stroke="#1a0488" stroke-width="0.9"/>
<rect x="55.39" y="173.89" width="5.58" height="5.56" fill="none" stroke="#d09098" stroke-width="0.9"/>
<rect x="61.87" y="173.89" width="5.58" height="5.56" fill="none" stroke="#bc2030" stroke-width="0.9"/>
<rect x="68.35" y="173.89" width="5.58" height="5.56" fill="none" stroke="#9c9cd4" stroke-width="0.9"/>
<rect x="74.83" y="173.89" width="5.58" height="5.56" fill="none" stroke="#bc2030" stroke-width="0.9"/>
<rect x="81.31" y="173.89" width="5.58" height="5.56" fill="none" stroke="#a80010" stroke-width="0.9"/>
<rect x="87.79" y="173.89" width="5.58" height="5.56" fill="none" stroke="#c43a44" stroke-width="0.9"/>
<rect x="94.27" y="173.89" width="5.58" height="5.56" fill="none" stroke="#c43a44" stroke-width="0.9"/>
<rect x="100.75" y="173.89" width="5.58" height="5.56" fill="none" stroke="#bc2030" stroke-width="0.9"/>
<rect x="107.23" y="173.89" width="5.58" height="5.56" fill="none" stroke="#c43a44" stroke-width="0.9"/>
<rect x="3.55" y="180.35" width="5.58" height="5.56" fill="none" stroke="#1a0488" stroke-width="0.9"/>
<rect x="10.03" y="180.35" width="5.58" height="5.56" fill="none" stroke="#5a56b8" stroke-width="0.9"/>
<rect x="16.51" y="180.35" width="5.58" height="5.56" fill="none" stroke="#1a0488" stroke-width="0.9"/>
<rect x="22.99" y="180.35" width="5.58" height="5.56" fill="none" stroke="#1a0488" stroke-width="0.9"/>
<rect x="29.47" y="180.35" width="5.58" height="5.56" fill="none" stroke="#1a0488" stroke-width="0.9"/>
<rect x="35.95" y="180.35" width="5.58" height="5.56" fill="none" stroke="#1a0488" stroke-width="0.9"/>
<rect x="42.43" y="180.35" width="5.58" height="5.56" fill="none" stroke="#5a56b8" stroke-width="0.9"/>
<rect x="48.91" y="180.35" width="5.58" height="5.56" fill="none" stroke="#1a0488" stroke-width="0.9"/>
<rect x="55.39" y="180.35" width="5.58" height="5.56" fill="none" stroke="#1a0488" stroke-width="0.9"/>
<rect x="61.87" y="180.35" width="5.58" height="5.56" fill="none" stroke="#a80010" stroke-width="0.9"/>
<rect x="68.35" y="180.35" width="5.58" height="5.56" fill="none" stroke="#1a0488" stroke-width="0.9"/>
<rect x="74.83" y="180.35" width="5.58" height="5.56" fill="none" stroke="#bc2030" stroke-width="0.9"/>
<rect x="81.31" y="180.35" width="5.58" height="5.56" fill="none" stroke="#c43a44" stroke-width="0.9"/>
<rect x="87.79" y="180.35" width="5.58" height="5.56" fill="none" stroke="#a80010" stroke-width="0.9"/>
<rect x="94.27" y="180.35" width="5.58" height="5.56" fill="none" stroke="#bc2030" stroke-width="0.9"/>
<rect x="100.75" y="180.35" width="5.58" height="5.56" fill="none" stroke="#c43a44" stroke-width="0.9"/>
<rect x="107.23" y="180.35" width="5.58" height="5.56" fill="none" stroke="#bc2030" stroke-width="0.9"/>
<rect x="3.55" y="186.81" width="5.58" height="5.56" fill="none" stroke="#9c9cd4" stroke-width="0.9"/>
<rect x="10.03" y="186.81" width="5.58" height="5.56" fill="none" stroke="#1a0488" stroke-width="0.9"/>
<rect x="16.51" y="186.81" width="5.58" height="5.56" fill="none" stroke="#1a0488" stroke-width="0.9"/>
<rect x="22.99" y="186.81" width="5.58" height="5.56" fill="none" stroke="#1a0488" stroke-width="0.9"/>
<rect x="29.47" y="186.81" width="5.58" height="5.56" fill="none" stroke="#5a56b8" stroke-width="0.9"/>
<rect x="35.95" y="186.81" width="5.58" height="5.56" fill="none" stroke="#1a0488" stroke-width="0.9"/>
<rect x="42.43" y="186.81" width="5.58" height="5.56" fill="none" stroke="#5a56b8" stroke-width="0.9"/>
<rect x="48.91" y="186.81" width="5.58" height="5.56" fill="none" stroke="#5a56b8" stroke-width="0.9"/>
<rect x="55.39" y="186.81" width="5.58" height="5.56" fill="none" stroke="#1a0488" stroke-width="0.9"/>
<rect x="61.87" y="186.81" width="5.58" height="5.56" fill="none" stroke="#c43a44" stroke-width="0.9"/>
<rect x="68.35" y="186.81" width="5.58" height="5.56" fill="none" stroke="#5a56b8" stroke-width="0.9"/>
<rect x="74.83" y="186.81" width="5.58" height="5.56" fill="none" stroke="#c43a44" stroke-width="0.9"/>
<rect x="81.31" y="186.81" width="5.58" height="5.56" fill="none" stroke="#c43a44" stroke-width="0.9"/>
<rect x="87.79" y="186.81" width="5.58" height="5.56" fill="none" stroke="#c43a44" stroke-width="0.9"/>
<rect x="94.27" y="186.81" width="5.58" height="5.56" fill="none" stroke="#a80010" stroke-width="0.9"/>
<rect x="100.75" y="186.81" width="5.58" height="5.56" fill="none" stroke="#c43a44" stroke-width="0.9"/>
<rect x="107.23" y="186.81" width="5.58" height="5.56" fill="none" stroke="#c43a44" stroke-width="0.9"/>
<rect x="3.55" y="193.27" width="5.58" height="5.56" fill="none" stroke="#1a0488" stroke-width="0.9"/>
<rect x="10.03" y="193.27" width="5.58" height="5.56" fill="none" stroke="#5a56b8" stroke-width="0.9"/>
<rect x="16.51" y="193.27" width="5.58" height="5.56" fill="none" stroke="#1a0488" stroke-width="0.9"/>
<rect x="22.99" y="193.27" width="5.58" height="5.56" fill="none" stroke="#1a0488" stroke-width="0.9"/>
<rect x="29.47" y="193.27" width="5.58" height="5.56" fill="none" stroke="#1a0488" stroke-width="0.9"/>
<rect x="35.95" y="193.27" width="5.58" height="5.56" fill="none" stroke="#1a0488" stroke-width="0.9"/>
<rect x="42.43" y="193.27" width="5.58" height="5.56" fill="none" stroke="#5a56b8" stroke-width="0.9"/>
<rect x="48.91" y="193.27" width="5.58" height="5.56" fill="none" stroke="#c43a44" stroke-width="0.9"/>
<rect x="55.39" y="193.27" width="5.58" height="5.56" fill="none" stroke="#1a0488" stroke-width="0.9"/>
<rect x="61.87" y="193.27" width="5.58" height="5.56" fill="none" stroke="#d09098" stroke-width="0.9"/>
<rect x="68.35" y="193.27" width="5.58" height="5.56" fill="none" stroke="#c43a44" stroke-width="0.9"/>
<rect x="74.83" y="193.27" width="5.58" height="5.56" fill="none" stroke="#c43a44" stroke-width="0.9"/>
<rect x="81.31" y="193.27" width="5.58" height="5.56" fill="none" stroke="#c43a44" stroke-width="0.9"/>
<rect x="87.79" y="193.27" width="5.58" height="5.56" fill="none" stroke="#bc2030" stroke-width="0.9"/>
<rect x="94.27" y="193.27" width="5.58" height="5.56" fill="none" stroke="#c43a44" stroke-width="0.9"/>
<rect x="100.75" y="193.27" width="5.58" height="5.56" fill="none" stroke="#a80010" stroke-width="0.9"/>
<rect x="107.23" y="193.27" width="5.58" height="5.56" fill="none" stroke="#bc2030" stroke-width="0.9"/>
<rect x="3.55" y="199.73" width="5.58" height="5.56" fill="none" stroke="#9c9cd4" stroke-width="0.9"/>
<rect x="10.03" y="199.73" width="5.58" height="5.56" fill="none" stroke="#1a0488" stroke-width="0.9"/>
<rect x="16.51" y="199.73" width="5.58" height="5.56" fill="none" stroke="#1a0488" stroke-width="0.9"/>
<rect x="22.99" y="199.73" width="5.58" height="5.56" fill="none" stroke="#5a56b8" stroke-width="0.9"/>
<rect x="29.47" y="199.73" width="5.58" height="5.56" fill="none" stroke="#1a0488" stroke-width="0.9"/>
<rect x="35.95" y="199.73" width="5.58" height="5.56" fill="none" stroke="#5a56b8" stroke-width="0.9"/>
<rect x="42.43" y="199.73" width="5.58" height="5.56" fill="none" stroke="#c43a44" stroke-width="0.9"/>
<rect x="48.91" y="199.73" width="5.58" height="5.56" fill="none" stroke="#1a0488" stroke-width="0.9"/>
<rect x="55.39" y="199.73" width="5.58" height="5.56" fill="none" stroke="#5a56b8" stroke-width="0.9"/>
<rect x="61.87" y="199.73" width="5.58" height="5.56" fill="none" stroke="#bc2030" stroke-width="0.9"/>
<rect x="68.35" y="199.73" width="5.58" height="5.56" fill="none" stroke="#c43a44" stroke-width="0.9"/>
<rect x="74.83" y="199.73" width="5.58" height="5.56" fill="none" stroke="#a80010" stroke-width="0.9"/>
<rect x="81.31" y="199.73" width="5.58" height="5.56" fill="none" stroke="#bc2030" stroke-width="0.9"/>
<rect x="87.79" y="199.73" width="5.58" height="5.56" fill="none" stroke="#9c9cd4" stroke-width="0.9"/>
<rect x="94.27" y="199.73" width="5.58" height="5.56" fill="none" stroke="#bc2030" stroke-width="0.9"/>
<rect x="100.75" y="199.73" width="5.58" height="5.56" fill="none" stroke="#c43a44" stroke-width="0.9"/>
<rect x="107.23" y="199.73" width="5.58" height="5.56" fill="none" stroke="#c43a44" stroke-width="0.9"/>
<rect x="3.55" y="206.19" width="5.58" height="5.56" fill="none" stroke="#1a0488" stroke-width="0.9"/>
<rect x="10.03" y="206.19" width="5.58" height="5.56" fill="none" stroke="#5a56b8" stroke-width="0.9"/>
<rect x="16.51" y="206.19" width="5.58" height="5.56" fill="none" stroke="#5a56b8" stroke-width="0.9"/>
<rect x="22.99" y="206.19" width="5.58" height="5.56" fill="none" stroke="#5a56b8" stroke-width="0.9"/>
<rect x="29.47" y="206.19" width="5.58" height="5.56" fill="none" stroke="#5a56b8" stroke-width="0.9"/>
<rect x="35.95" y="206.19" width="5.58" height="5.56" fill="none" stroke="#1a0488" stroke-width="0.9"/>
<rect x="42.43" y="206.19" width="5.58" height="5.56" fill="none" stroke="#5a56b8" stroke-width="0.9"/>
<rect x="48.91" y="206.19" width="5.58" height="5.56" fill="none" stroke="#9c9cd4" stroke-width="0.9"/>
<rect x="55.39" y="206.19" width="5.58" height="5.56" fill="none" stroke="#1a0488" stroke-width="0.9"/>
<rect x="61.87" y="206.19" width="5.58" height="5.56" fill="none" stroke="#a80010" stroke-width="0.9"/>
<rect x="68.35" y="206.19" width="5.58" height="5.56" fill="none" stroke="#5a56b8" stroke-width="0.9"/>
<rect x="74.83" y="206.19" width="5.58" height="5.56" fill="none" stroke="#bc2030" stroke-width="0.9"/>
<rect x="81.31" y="206.19" width="5.58" height="5.56" fill="none" stroke="#c43a44" stroke-width="0.9"/>
<rect x="87.79" y="206.19" width="5.58" height="5.56" fill="none" stroke="#bc2030" stroke-width="0.9"/>
<rect x="94.27" y="206.19" width="5.58" height="5.56" fill="none" stroke="#bc2030" stroke-width="0.9"/>
<rect x="100.75" y="206.19" width="5.58" height="5.56" fill="none" stroke="#bc2030" stroke-width="0.9"/>
<rect x="107.23" y="206.19" width="5.58" height="5.56" fill="none" stroke="#bc2030" stroke-width="0.9"/>
<text x="116.00" y="56.90" font-size="5.5" text-anchor="start" fill="#222" font-weight="bold" textLength="20.00" lengthAdjust="spacingAndGlyphs">AKR1C4</text>
<text x="116.00" y="63.30" font-size="5.5" text-anchor="start" fill="#222" font-weight="bold" textLength="20.00" lengthAdjust="spacingAndGlyphs">AKR1C3</text>
<text x="116.00" y="69.70" font-size="5.5" text-anchor="start" fill="#222" font-weight="bold" textLength="13.61" lengthAdjust="spacingAndGlyphs">ADH5</text>
<text x="116.00" y="76.10" font-size="5.5" text-anchor="start" fill="#222" font-weight="bold" textLength="16.39" lengthAdjust="spacingAndGlyphs">THYN1</text>
<text x="116.00" y="82.50" font-size="5.5" text-anchor="start" fill="#222" font-weight="bold" textLength="27.24" lengthAdjust="spacingAndGlyphs">LOC653687</text>
<text x="116.00" y="88.90" font-size="5.5" text-anchor="start" fill="#222" font-weight="bold" textLength="35.58" lengthAdjust="spacingAndGlyphs">LOC100129064</text>
<text x="116.00" y="95.30" font-size="5.5" text-anchor="start" fill="#222" font-weight="bold" textLength="23.06" lengthAdjust="spacingAndGlyphs">ZDHHC15</text>
<text x="116.00" y="101.70" font-size="5.5" text-anchor="start" fill="#222" font-weight="bold" textLength="20.28" lengthAdjust="spacingAndGlyphs">SAMD13</text>
<text x="116.00" y="108.10" font-size="5.5" text-anchor="start" fill="#222" font-weight="bold" textLength="23.62" lengthAdjust="spacingAndGlyphs">GUCY1B3</text>
<text x="116.00" y="114.50" font-size="5.5" text-anchor="start" fill="#222" font-weight="bold" textLength="16.39" lengthAdjust="spacingAndGlyphs">HSDL1</text>
<text x="116.00" y="120.90" font-size="5.5" text-anchor="start" fill="#222" font-weight="bold" textLength="22.78" lengthAdjust="spacingAndGlyphs">NUDT9P1</text>
<text x="116.00" y="127.30" font-size="5.5" text-anchor="start" fill="#222" font-weight="bold" textLength="22.78" lengthAdjust="spacingAndGlyphs">CWF19L1</text>
<text x="116.00" y="133.70" font-size="5.5" text-anchor="start" fill="#222" font-weight="bold" textLength="27.24" lengthAdjust="spacingAndGlyphs">LOC731520</text>
<text x="116.00" y="140.10" font-size="5.5" text-anchor="start" fill="#222" font-weight="bold" textLength="27.24" lengthAdjust="spacingAndGlyphs">LOC647135</text>
<text x="116.00" y="146.50" font-size="5.5" text-anchor="start" fill="#222" font-weight="bold" textLength="16.67" lengthAdjust="spacingAndGlyphs">GRB10</text>
<text x="116.00" y="152.90" font-size="5.5" text-anchor="start" fill="#222" font-weight="bold" textLength="15.00" lengthAdjust="spacingAndGlyphs">UGCG</text>
<text x="116.00" y="159.30" font-size="5.5" text-anchor="start" fill="#222" font-weight="bold" textLength="25.29" lengthAdjust="spacingAndGlyphs">C1ORF162</text>
<text x="116.00" y="165.70" font-size="5.5" text-anchor="start" fill="#222" font-weight="bold" textLength="15.00" lengthAdjust="spacingAndGlyphs">IRAK3</text>
<text x="116.00" y="172.10" font-size="5.5" text-anchor="start" fill="#222" font-weight="bold" textLength="39.46" lengthAdjust="spacingAndGlyphs">DKFZP761P0423</text>
<text x="116.00" y="178.50" font-size="5.5" text-anchor="start" fill="#222" font-weight="bold" textLength="18.62" lengthAdjust="spacingAndGlyphs">TP53I11</text>
<text x="116.00" y="184.90" font-size="5.5" text-anchor="start" fill="#222" font-weight="bold" textLength="25.02" lengthAdjust="spacingAndGlyphs">HS.407903</text>
<text x="116.00" y="191.30" font-size="5.5" text-anchor="start" fill="#222" font-weight="bold" textLength="27.24" lengthAdjust="spacingAndGlyphs">LOC644615</text>
<text x="116.00" y="197.70" font-size="5.5" text-anchor="start" fill="#222" font-weight="bold" textLength="25.29" lengthAdjust="spacingAndGlyphs">C10ORF64</text>
<text x="116.00" y="204.10" font-size="5.5" text-anchor="start" fill="#222" font-weight="bold" textLength="13.61" lengthAdjust="spacingAndGlyphs">CTSB</text>
<text x="116.00" y="210.50" font-size="5.5" text-anchor="start" fill="#222" font-weight="bold" textLength="19.17" lengthAdjust="spacingAndGlyphs">SLC9A7</text>
<text x="10.14" y="39.80" font-size="5.1" text-anchor="start" fill="#dc3a5c" font-weight="bold" transform="rotate(-90 10.14 39.80)">ALL-18</text>
<text x="16.62" y="39.80" font-size="5.1" text-anchor="start" fill="#dc3a5c" font-weight="bold" transform="rotate(-90 16.62 39.80)">ALL-8</text>
<text x="23.10" y="39.80" font-size="5.1" text-anchor="start" fill="#dc3a5c" font-weight="bold" transform="rotate(-90 23.10 39.80)">ALL-30</text>
<text x="29.58" y="39.80" font-size="5.1" text-anchor="start" fill="#dc3a5c" font-weight="bold" transform="rotate(-90 29.58 39.80)">ALL-33</text>
<text x="36.06" y="39.80" font-size="5.1" text-anchor="start" fill="#dc3a5c" font-weight="bold" transform="rotate(-90 36.06 39.80)">ALL-37</text>
<text x="42.54" y="39.80" font-size="5.1" text-anchor="start" fill="#dc3a5c" font-weight="bold" transform="rotate(-90 42.54 39.80)">ALL-29</text>
<text x="49.02" y="39.80" font-size="5.1" text-anchor="start" fill="#dc3a5c" font-weight="bold" transform="rotate(-90 49.02 39.80)">ALL-32</text>
<text x="55.50" y="39.80" font-size="5.1" text-anchor="start" fill="#4c88b4" font-weight="bold" transform="rotate(-90 55.50 39.80)">ALL-7</text>
<text x="61.98" y="39.80" font-size="5.1" text-anchor="start" fill="#dc3a5c" font-weight="bold" transform="rotate(-90 61.98 39.80)">ALL-28</text>
<text x="68.46" y="39.80" font-size="5.1" text-anchor="start" fill="#4c88b4" font-weight="bold" transform="rotate(-90 68.46 39.80)">ALL-10</text>
<text x="74.94" y="39.80" font-size="5.1" text-anchor="start" fill="#dc3a5c" font-weight="bold" transform="rotate(-90 74.94 39.80)">ALL-42</text>
<text x="81.42" y="39.80" font-size="5.1" text-anchor="start" fill="#4c88b4" font-weight="bold" transform="rotate(-90 81.42 39.80)">ALL-11</text>
<text x="87.90" y="39.80" font-size="5.1" text-anchor="start" fill="#4c88b4" font-weight="bold" transform="rotate(-90 87.90 39.80)">ALL-3</text>
<text x="94.38" y="39.80" font-size="5.1" text-anchor="start" fill="#4c88b4" font-weight="bold" transform="rotate(-90 94.38 39.80)">ALL-2</text>
<text x="100.86" y="39.80" font-size="5.1" text-anchor="start" fill="#4c88b4" font-weight="bold" transform="rotate(-90 100.86 39.80)">ALL-17</text>
<text x="107.34" y="39.80" font-size="5.1" text-anchor="start" fill="#4c88b4" font-weight="bold" transform="rotate(-90 107.34 39.80)">ALL-4</text>
<text x="113.82" y="39.80" font-size="5.1" text-anchor="start" fill="#4c88b4" font-weight="bold" transform="rotate(-90 113.82 39.80)">ALL-19</text>
<polygon points="3.6,48.2 3.6,47.3 112.8,42.3 112.8,47.9" fill="#cc4444" stroke="#8a2424" stroke-width="0.75"/>
<text x="113.80" y="47.00" font-size="5.3" text-anchor="start" fill="#333">IC<tspan font-size="3.2" dy="0.8">50</tspan><tspan dy="-0.8"> (μM)</tspan></text>
<rect x="2.90" y="222.00" width="9.52" height="4.00" fill="#1e0c82"/>
<rect x="12.22" y="222.00" width="9.52" height="4.00" fill="#1e0c82"/>
<rect x="21.55" y="222.00" width="9.52" height="4.00" fill="#5a52c4"/>
<rect x="30.87" y="222.00" width="9.52" height="4.00" fill="#7c78d0"/>
<rect x="40.20" y="222.00" width="9.52" height="4.00" fill="#b4b2e6"/>
<rect x="49.52" y="222.00" width="9.52" height="4.00" fill="#e2e0f4"/>
<rect x="58.85" y="222.00" width="9.52" height="4.00" fill="#f0d4e4"/>
<rect x="68.17" y="222.00" width="9.52" height="4.00" fill="#e4a0a8"/>
<rect x="77.50" y="222.00" width="9.52" height="4.00" fill="#dc7c84"/>
<rect x="86.83" y="222.00" width="9.52" height="4.00" fill="#d45864"/>
<rect x="96.15" y="222.00" width="9.52" height="4.00" fill="#cc3c48"/>
<rect x="105.47" y="222.00" width="9.52" height="4.00" fill="#a8141e"/>
<text x="5.50" y="234.00" font-size="6.4" text-anchor="middle" fill="#222" transform="rotate(-90 5.50 234.00)" textLength="9.6" lengthAdjust="spacingAndGlyphs" stroke="#222" stroke-width="0.15">-3.0</text>
<text x="14.60" y="234.00" font-size="6.4" text-anchor="middle" fill="#222" transform="rotate(-90 14.60 234.00)" textLength="9.6" lengthAdjust="spacingAndGlyphs" stroke="#222" stroke-width="0.15">-2.5</text>
<text x="23.70" y="234.00" font-size="6.4" text-anchor="middle" fill="#222" transform="rotate(-90 23.70 234.00)" textLength="9.6" lengthAdjust="spacingAndGlyphs" stroke="#222" stroke-width="0.15">-2.0</text>
<text x="32.80" y="234.00" font-size="6.4" text-anchor="middle" fill="#222" transform="rotate(-90 32.80 234.00)" textLength="9.6" lengthAdjust="spacingAndGlyphs" stroke="#222" stroke-width="0.15">-1.5</text>
<text x="41.90" y="234.00" font-size="6.4" text-anchor="middle" fill="#222" transform="rotate(-90 41.90 234.00)" textLength="9.6" lengthAdjust="spacingAndGlyphs" stroke="#222" stroke-width="0.15">-1.0</text>
<text x="51.00" y="234.00" font-size="6.4" text-anchor="middle" fill="#222" transform="rotate(-90 51.00 234.00)" textLength="9.6" lengthAdjust="spacingAndGlyphs" stroke="#222" stroke-width="0.15">-0.5</text>
<text x="60.10" y="234.00" font-size="6.4" text-anchor="middle" fill="#222" transform="rotate(-90 60.10 234.00)" textLength="7.9" lengthAdjust="spacingAndGlyphs" stroke="#222" stroke-width="0.15">0.0</text>
<text x="69.20" y="234.00" font-size="6.4" text-anchor="middle" fill="#222" transform="rotate(-90 69.20 234.00)" textLength="7.9" lengthAdjust="spacingAndGlyphs" stroke="#222" stroke-width="0.15">0.5</text>
<text x="78.30" y="234.00" font-size="6.4" text-anchor="middle" fill="#222" transform="rotate(-90 78.30 234.00)" textLength="7.9" lengthAdjust="spacingAndGlyphs" stroke="#222" stroke-width="0.15">1.0</text>
<text x="87.40" y="234.00" font-size="6.4" text-anchor="middle" fill="#222" transform="rotate(-90 87.40 234.00)" textLength="7.9" lengthAdjust="spacingAndGlyphs" stroke="#222" stroke-width="0.15">1.5</text>
<text x="96.50" y="234.00" font-size="6.4" text-anchor="middle" fill="#222" transform="rotate(-90 96.50 234.00)" textLength="7.9" lengthAdjust="spacingAndGlyphs" stroke="#222" stroke-width="0.15">2.0</text>
<text x="105.60" y="234.00" font-size="6.4" text-anchor="middle" fill="#222" transform="rotate(-90 105.60 234.00)" textLength="7.9" lengthAdjust="spacingAndGlyphs" stroke="#222" stroke-width="0.15">2.5</text>
<text x="114.70" y="234.00" font-size="6.4" text-anchor="middle" fill="#222" transform="rotate(-90 114.70 234.00)" textLength="7.9" lengthAdjust="spacingAndGlyphs" stroke="#222" stroke-width="0.15">3.0</text>
<text x="20.30" y="246.20" font-size="6.4" text-anchor="start" fill="#111">Normalized log2 expression</text>
<text x="2.00" y="9.60" font-size="10.5" text-anchor="start" fill="#000" font-weight="bold">A</text>
<line x1="181.50" y1="18.60" x2="282.00" y2="18.60" stroke="#444" stroke-width="0.8"/>
<line x1="282.00" y1="18.60" x2="282.00" y2="85.80" stroke="#444" stroke-width="0.8"/>
<line x1="181.50" y1="18.60" x2="181.50" y2="85.80" stroke="#222" stroke-width="0.8"/>
<line x1="181.50" y1="85.80" x2="282.00" y2="85.80" stroke="#222" stroke-width="0.8"/>
<line x1="179.70" y1="85.80" x2="181.50" y2="85.80" stroke="#222" stroke-width="0.6"/>
<text x="179.30" y="87.45" font-size="4.6" text-anchor="end" fill="#222" textLength="2.2" lengthAdjust="spacingAndGlyphs">0</text>
<line x1="179.70" y1="63.40" x2="181.50" y2="63.40" stroke="#222" stroke-width="0.6"/>
<text x="179.30" y="65.05" font-size="4.6" text-anchor="end" fill="#222" textLength="4.4" lengthAdjust="spacingAndGlyphs">20</text>
<line x1="179.70" y1="41.00" x2="181.50" y2="41.00" stroke="#222" stroke-width="0.6"/>
<text x="179.30" y="42.65" font-size="4.6" text-anchor="end" fill="#222" textLength="4.4" lengthAdjust="spacingAndGlyphs">40</text>
<line x1="179.70" y1="18.60" x2="181.50" y2="18.60" stroke="#222" stroke-width="0.6"/>
<text x="179.30" y="20.25" font-size="4.6" text-anchor="end" fill="#222" textLength="4.4" lengthAdjust="spacingAndGlyphs">60</text>
<line x1="183.20" y1="24.40" x2="232.30" y2="24.40" stroke="#555" stroke-width="0.9"/>
<line x1="236.00" y1="24.40" x2="279.40" y2="24.40" stroke="#555" stroke-width="0.9"/>
<text x="204.80" y="23.30" font-size="4.6" text-anchor="middle" fill="#333">T-ALL</text>
<text x="255.80" y="23.30" font-size="4.6" text-anchor="middle" fill="#333">B-ALL</text>
<text x="278.50" y="36.00" font-size="4.8" text-anchor="end" fill="#444"><tspan font-style="italic">P</tspan> &lt; 0.0001</text>
<line x1="184.50" y1="46.26" x2="184.50" y2="51.75" stroke="#555" stroke-width="0.5"/>
<line x1="183.70" y1="46.26" x2="185.30" y2="46.26" stroke="#555" stroke-width="0.5"/>
<rect x="182.50" y="51.75" width="4.00" height="34.05" fill="#000"/>
<line x1="184.50" y1="85.80" x2="184.50" y2="87.00" stroke="#222" stroke-width="0.5"/>
<text x="186.00" y="87.60" font-size="4.1" text-anchor="end" fill="#111" font-weight="bold" transform="rotate(-90 186.00 87.60)" stroke="#111" stroke-width="0.1">ALL-8</text>
<line x1="190.39" y1="24.65" x2="190.39" y2="38.98" stroke="#555" stroke-width="0.5"/>
<line x1="189.59" y1="24.65" x2="191.19" y2="24.65" stroke="#555" stroke-width="0.5"/>
<rect x="188.39" y="38.98" width="4.00" height="46.82" fill="#000"/>
<line x1="190.39" y1="85.80" x2="190.39" y2="87.00" stroke="#222" stroke-width="0.5"/>
<text x="191.89" y="87.60" font-size="4.1" text-anchor="end" fill="#111" font-weight="bold" transform="rotate(-90 191.89 87.60)" stroke="#111" stroke-width="0.1">ALL-16</text>
<line x1="196.28" y1="27.56" x2="196.28" y2="38.76" stroke="#555" stroke-width="0.5"/>
<line x1="195.48" y1="27.56" x2="197.08" y2="27.56" stroke="#555" stroke-width="0.5"/>
<rect x="194.28" y="38.76" width="4.00" height="47.04" fill="#000"/>
<line x1="196.28" y1="85.80" x2="196.28" y2="87.00" stroke="#222" stroke-width="0.5"/>
<text x="197.78" y="87.60" font-size="4.1" text-anchor="end" fill="#111" font-weight="bold" transform="rotate(-90 197.78 87.60)" stroke="#111" stroke-width="0.1">ALL-27</text>
<line x1="202.17" y1="50.18" x2="202.17" y2="59.59" stroke="#555" stroke-width="0.5"/>
<line x1="201.37" y1="50.18" x2="202.97" y2="50.18" stroke="#555" stroke-width="0.5"/>
<rect x="200.17" y="59.59" width="4.00" height="26.21" fill="#000"/>
<line x1="202.17" y1="85.80" x2="202.17" y2="87.00" stroke="#222" stroke-width="0.5"/>
<text x="203.67" y="87.60" font-size="4.1" text-anchor="end" fill="#111" font-weight="bold" transform="rotate(-90 203.67 87.60)" stroke="#111" stroke-width="0.1">ALL-29</text>
<line x1="208.06" y1="50.74" x2="208.06" y2="54.44" stroke="#555" stroke-width="0.5"/>
<line x1="207.26" y1="50.74" x2="208.86" y2="50.74" stroke="#555" stroke-width="0.5"/>
<rect x="206.06" y="54.44" width="4.00" height="31.36" fill="#000"/>
<line x1="208.06" y1="85.80" x2="208.06" y2="87.00" stroke="#222" stroke-width="0.5"/>
<text x="209.56" y="87.60" font-size="4.1" text-anchor="end" fill="#111" font-weight="bold" transform="rotate(-90 209.56 87.60)" stroke="#111" stroke-width="0.1">ALL-30</text>
<line x1="213.95" y1="41.34" x2="213.95" y2="55.67" stroke="#555" stroke-width="0.5"/>
<line x1="213.15" y1="41.34" x2="214.75" y2="41.34" stroke="#555" stroke-width="0.5"/>
<rect x="211.95" y="55.67" width="4.00" height="30.13" fill="#000"/>
<line x1="213.95" y1="85.80" x2="213.95" y2="87.00" stroke="#222" stroke-width="0.5"/>
<text x="215.45" y="87.60" font-size="4.1" text-anchor="end" fill="#111" font-weight="bold" transform="rotate(-90 215.45 87.60)" stroke="#111" stroke-width="0.1">ALL-31</text>
<line x1="219.84" y1="53.32" x2="219.84" y2="55.45" stroke="#555" stroke-width="0.5"/>
<line x1="219.04" y1="53.32" x2="220.64" y2="53.32" stroke="#555" stroke-width="0.5"/>
<rect x="217.84" y="55.45" width="4.00" height="30.35" fill="#000"/>
<line x1="219.84" y1="85.80" x2="219.84" y2="87.00" stroke="#222" stroke-width="0.5"/>
<text x="221.34" y="87.60" font-size="4.1" text-anchor="end" fill="#111" font-weight="bold" transform="rotate(-90 221.34 87.60)" stroke="#111" stroke-width="0.1">ALL-32</text>
<line x1="225.73" y1="49.06" x2="225.73" y2="63.85" stroke="#555" stroke-width="0.5"/>
<line x1="224.93" y1="49.06" x2="226.53" y2="49.06" stroke="#555" stroke-width="0.5"/>
<rect x="223.73" y="63.85" width="4.00" height="21.95" fill="#000"/>
<line x1="225.73" y1="85.80" x2="225.73" y2="87.00" stroke="#222" stroke-width="0.5"/>
<text x="227.23" y="87.60" font-size="4.1" text-anchor="end" fill="#111" font-weight="bold" transform="rotate(-90 227.23 87.60)" stroke="#111" stroke-width="0.1">ALL-33</text>
<rect x="229.62" y="85.46" width="4.00" height="0.34" fill="#000"/>
<line x1="231.62" y1="85.80" x2="231.62" y2="87.00" stroke="#222" stroke-width="0.5"/>
<text x="233.12" y="87.60" font-size="4.1" text-anchor="end" fill="#111" font-weight="bold" transform="rotate(-90 233.12 87.60)" stroke="#111" stroke-width="0.1">ALL-42</text>
<rect x="235.81" y="79.19" width="3.40" height="6.61" fill="#f2f2f2" stroke="#444" stroke-width="0.65"/>
<line x1="237.51" y1="85.80" x2="237.51" y2="87.00" stroke="#222" stroke-width="0.5"/>
<text x="239.01" y="87.60" font-size="4.1" text-anchor="end" fill="#111" font-weight="bold" transform="rotate(-90 239.01 87.60)" stroke="#111" stroke-width="0.1">ALL-2</text>
<rect x="241.70" y="83.22" width="3.40" height="2.58" fill="#f2f2f2" stroke="#444" stroke-width="0.65"/>
<line x1="243.40" y1="85.80" x2="243.40" y2="87.00" stroke="#222" stroke-width="0.5"/>
<text x="244.90" y="87.60" font-size="4.1" text-anchor="end" fill="#111" font-weight="bold" transform="rotate(-90 244.90 87.60)" stroke="#111" stroke-width="0.1">ALL-3</text>
<line x1="249.29" y1="85.80" x2="249.29" y2="87.00" stroke="#222" stroke-width="0.5"/>
<text x="250.79" y="87.60" font-size="4.1" text-anchor="end" fill="#111" font-weight="bold" transform="rotate(-90 250.79 87.60)" stroke="#111" stroke-width="0.1">ALL-4</text>
<rect x="253.48" y="79.19" width="3.40" height="6.61" fill="#f2f2f2" stroke="#444" stroke-width="0.65"/>
<line x1="255.18" y1="85.80" x2="255.18" y2="87.00" stroke="#222" stroke-width="0.5"/>
<text x="256.68" y="87.60" font-size="4.1" text-anchor="end" fill="#111" font-weight="bold" transform="rotate(-90 256.68 87.60)" stroke="#111" stroke-width="0.1">ALL-7</text>
<line x1="261.07" y1="85.80" x2="261.07" y2="87.00" stroke="#222" stroke-width="0.5"/>
<text x="262.57" y="87.60" font-size="4.1" text-anchor="end" fill="#111" font-weight="bold" transform="rotate(-90 262.57 87.60)" stroke="#111" stroke-width="0.1">ALL-10</text>
<rect x="265.26" y="85.46" width="3.40" height="0.34" fill="#f2f2f2" stroke="#444" stroke-width="0.65"/>
<line x1="266.96" y1="85.80" x2="266.96" y2="87.00" stroke="#222" stroke-width="0.5"/>
<text x="268.46" y="87.60" font-size="4.1" text-anchor="end" fill="#111" font-weight="bold" transform="rotate(-90 268.46 87.60)" stroke="#111" stroke-width="0.1">ALL-11</text>
<rect x="271.15" y="84.90" width="3.40" height="0.90" fill="#f2f2f2" stroke="#444" stroke-width="0.65"/>
<line x1="272.85" y1="85.80" x2="272.85" y2="87.00" stroke="#222" stroke-width="0.5"/>
<text x="274.35" y="87.60" font-size="4.1" text-anchor="end" fill="#111" font-weight="bold" transform="rotate(-90 274.35 87.60)" stroke="#111" stroke-width="0.1">ALL-17</text>
<line x1="278.74" y1="85.80" x2="278.74" y2="87.00" stroke="#222" stroke-width="0.5"/>
<text x="280.24" y="87.60" font-size="4.1" text-anchor="end" fill="#111" font-weight="bold" transform="rotate(-90 280.24 87.60)" stroke="#111" stroke-width="0.1">ALL-19</text>
<text x="166.00" y="54.75" font-size="6.4" text-anchor="middle" fill="#222" transform="rotate(-90 166.00 54.75)">AKR1C3 mRNA</text>
<text x="173.10" y="54.60" font-size="6.45" text-anchor="middle" fill="#222" transform="rotate(-90 173.10 54.60)">Relative Expression</text>
<line x1="182.30" y1="122.50" x2="281.00" y2="122.50" stroke="#444" stroke-width="0.8"/>
<line x1="281.00" y1="122.50" x2="281.00" y2="188.20" stroke="#444" stroke-width="0.8"/>
<line x1="182.30" y1="122.50" x2="182.30" y2="188.20" stroke="#222" stroke-width="0.8"/>
<line x1="182.30" y1="188.20" x2="281.00" y2="188.20" stroke="#222" stroke-width="0.8"/>
<line x1="180.50" y1="188.20" x2="182.30" y2="188.20" stroke="#222" stroke-width="0.6"/>
<text x="180.10" y="189.85" font-size="4.6" text-anchor="end" fill="#222" textLength="2.2" lengthAdjust="spacingAndGlyphs">0</text>
<line x1="180.50" y1="166.30" x2="182.30" y2="166.30" stroke="#222" stroke-width="0.6"/>
<text x="180.10" y="167.95" font-size="4.6" text-anchor="end" fill="#222" textLength="4.4" lengthAdjust="spacingAndGlyphs">30</text>
<line x1="180.50" y1="144.40" x2="182.30" y2="144.40" stroke="#222" stroke-width="0.6"/>
<text x="180.10" y="146.05" font-size="4.6" text-anchor="end" fill="#222" textLength="4.4" lengthAdjust="spacingAndGlyphs">60</text>
<line x1="180.50" y1="122.50" x2="182.30" y2="122.50" stroke="#222" stroke-width="0.6"/>
<text x="180.10" y="124.15" font-size="4.6" text-anchor="end" fill="#222" textLength="4.4" lengthAdjust="spacingAndGlyphs">90</text>
<line x1="183.20" y1="128.30" x2="232.30" y2="128.30" stroke="#555" stroke-width="0.9"/>
<line x1="236.00" y1="128.30" x2="278.40" y2="128.30" stroke="#555" stroke-width="0.9"/>
<text x="204.80" y="127.20" font-size="4.6" text-anchor="middle" fill="#333">T-ALL</text>
<text x="255.80" y="127.20" font-size="4.6" text-anchor="middle" fill="#333">B-ALL</text>
<text x="277.50" y="139.20" font-size="4.8" text-anchor="end" fill="#444"><tspan font-style="italic">P</tspan> &lt; 0.0001</text>
<line x1="185.10" y1="142.94" x2="185.10" y2="153.89" stroke="#555" stroke-width="0.5"/>
<line x1="184.30" y1="142.94" x2="185.90" y2="142.94" stroke="#555" stroke-width="0.5"/>
<rect x="183.10" y="153.89" width="4.00" height="34.31" fill="#000"/>
<line x1="185.10" y1="188.20" x2="185.10" y2="189.40" stroke="#222" stroke-width="0.5"/>
<text x="186.60" y="190.00" font-size="4.1" text-anchor="end" fill="#111" font-weight="bold" transform="rotate(-90 186.60 190.00)" stroke="#111" stroke-width="0.1">ALL-8</text>
<line x1="190.93" y1="127.61" x2="190.93" y2="134.91" stroke="#555" stroke-width="0.5"/>
<line x1="190.13" y1="127.61" x2="191.73" y2="127.61" stroke="#555" stroke-width="0.5"/>
<rect x="188.93" y="134.91" width="4.00" height="53.29" fill="#000"/>
<line x1="190.93" y1="188.20" x2="190.93" y2="189.40" stroke="#222" stroke-width="0.5"/>
<text x="192.43" y="190.00" font-size="4.1" text-anchor="end" fill="#111" font-weight="bold" transform="rotate(-90 192.43 190.00)" stroke="#111" stroke-width="0.1">ALL-16</text>
<line x1="196.76" y1="139.29" x2="196.76" y2="149.88" stroke="#555" stroke-width="0.5"/>
<line x1="195.96" y1="139.29" x2="197.56" y2="139.29" stroke="#555" stroke-width="0.5"/>
<rect x="194.76" y="149.88" width="4.00" height="38.32" fill="#000"/>
<line x1="196.76" y1="188.20" x2="196.76" y2="189.40" stroke="#222" stroke-width="0.5"/>
<text x="198.26" y="190.00" font-size="4.1" text-anchor="end" fill="#111" font-weight="bold" transform="rotate(-90 198.26 190.00)" stroke="#111" stroke-width="0.1">ALL-27</text>
<line x1="202.59" y1="174.69" x2="202.59" y2="175.79" stroke="#555" stroke-width="0.5"/>
<line x1="201.79" y1="174.69" x2="203.39" y2="174.69" stroke="#555" stroke-width="0.5"/>
<rect x="200.59" y="175.79" width="4.00" height="12.41" fill="#000"/>
<line x1="202.59" y1="188.20" x2="202.59" y2="189.40" stroke="#222" stroke-width="0.5"/>
<text x="204.09" y="190.00" font-size="4.1" text-anchor="end" fill="#111" font-weight="bold" transform="rotate(-90 204.09 190.00)" stroke="#111" stroke-width="0.1">ALL-29</text>
<line x1="208.42" y1="149.51" x2="208.42" y2="153.16" stroke="#555" stroke-width="0.5"/>
<line x1="207.62" y1="149.51" x2="209.22" y2="149.51" stroke="#555" stroke-width="0.5"/>
<rect x="206.42" y="153.16" width="4.00" height="35.04" fill="#000"/>
<line x1="208.42" y1="188.20" x2="208.42" y2="189.40" stroke="#222" stroke-width="0.5"/>
<text x="209.92" y="190.00" font-size="4.1" text-anchor="end" fill="#111" font-weight="bold" transform="rotate(-90 209.92 190.00)" stroke="#111" stroke-width="0.1">ALL-30</text>
<line x1="214.25" y1="157.76" x2="214.25" y2="163.67" stroke="#555" stroke-width="0.5"/>
<line x1="213.45" y1="157.76" x2="215.05" y2="157.76" stroke="#555" stroke-width="0.5"/>
<rect x="212.25" y="163.67" width="4.00" height="24.53" fill="#000"/>
<line x1="214.25" y1="188.20" x2="214.25" y2="189.40" stroke="#222" stroke-width="0.5"/>
<text x="215.75" y="190.00" font-size="4.1" text-anchor="end" fill="#111" font-weight="bold" transform="rotate(-90 215.75 190.00)" stroke="#111" stroke-width="0.1">ALL-31</text>
<line x1="220.08" y1="166.30" x2="220.08" y2="171.41" stroke="#555" stroke-width="0.5"/>
<line x1="219.28" y1="166.30" x2="220.88" y2="166.30" stroke="#555" stroke-width="0.5"/>
<rect x="218.08" y="171.41" width="4.00" height="16.79" fill="#000"/>
<line x1="220.08" y1="188.20" x2="220.08" y2="189.40" stroke="#222" stroke-width="0.5"/>
<text x="221.58" y="190.00" font-size="4.1" text-anchor="end" fill="#111" font-weight="bold" transform="rotate(-90 221.58 190.00)" stroke="#111" stroke-width="0.1">ALL-32</text>
<line x1="225.91" y1="169.37" x2="225.91" y2="173.16" stroke="#555" stroke-width="0.5"/>
<line x1="225.11" y1="169.37" x2="226.71" y2="169.37" stroke="#555" stroke-width="0.5"/>
<rect x="223.91" y="173.16" width="4.00" height="15.04" fill="#000"/>
<line x1="225.91" y1="188.20" x2="225.91" y2="189.40" stroke="#222" stroke-width="0.5"/>
<text x="227.41" y="190.00" font-size="4.1" text-anchor="end" fill="#111" font-weight="bold" transform="rotate(-90 227.41 190.00)" stroke="#111" stroke-width="0.1">ALL-33</text>
<rect x="229.74" y="186.01" width="4.00" height="2.19" fill="#000"/>
<line x1="231.74" y1="188.20" x2="231.74" y2="189.40" stroke="#222" stroke-width="0.5"/>
<text x="233.24" y="190.00" font-size="4.1" text-anchor="end" fill="#111" font-weight="bold" transform="rotate(-90 233.24 190.00)" stroke="#111" stroke-width="0.1">ALL-42</text>
<line x1="237.57" y1="181.63" x2="237.57" y2="183.38" stroke="#555" stroke-width="0.5"/>
<line x1="236.77" y1="181.63" x2="238.37" y2="181.63" stroke="#555" stroke-width="0.5"/>
<rect x="235.87" y="183.38" width="3.40" height="4.82" fill="#f2f2f2" stroke="#444" stroke-width="0.65"/>
<line x1="237.57" y1="188.20" x2="237.57" y2="189.40" stroke="#222" stroke-width="0.5"/>
<text x="239.07" y="190.00" font-size="4.1" text-anchor="end" fill="#111" font-weight="bold" transform="rotate(-90 239.07 190.00)" stroke="#111" stroke-width="0.1">ALL-2</text>
<rect x="241.70" y="185.28" width="3.40" height="2.92" fill="#f2f2f2" stroke="#444" stroke-width="0.65"/>
<line x1="243.40" y1="188.20" x2="243.40" y2="189.40" stroke="#222" stroke-width="0.5"/>
<text x="244.90" y="190.00" font-size="4.1" text-anchor="end" fill="#111" font-weight="bold" transform="rotate(-90 244.90 190.00)" stroke="#111" stroke-width="0.1">ALL-3</text>
<line x1="249.23" y1="188.20" x2="249.23" y2="189.40" stroke="#222" stroke-width="0.5"/>
<text x="250.73" y="190.00" font-size="4.1" text-anchor="end" fill="#111" font-weight="bold" transform="rotate(-90 250.73 190.00)" stroke="#111" stroke-width="0.1">ALL-4</text>
<line x1="255.06" y1="167.98" x2="255.06" y2="172.36" stroke="#555" stroke-width="0.5"/>
<line x1="254.26" y1="167.98" x2="255.86" y2="167.98" stroke="#555" stroke-width="0.5"/>
<rect x="253.36" y="172.36" width="3.40" height="15.84" fill="#f2f2f2" stroke="#444" stroke-width="0.65"/>
<line x1="255.06" y1="188.20" x2="255.06" y2="189.40" stroke="#222" stroke-width="0.5"/>
<text x="256.56" y="190.00" font-size="4.1" text-anchor="end" fill="#111" font-weight="bold" transform="rotate(-90 256.56 190.00)" stroke="#111" stroke-width="0.1">ALL-7</text>
<rect x="259.19" y="187.03" width="3.40" height="1.17" fill="#f2f2f2" stroke="#444" stroke-width="0.65"/>
<line x1="260.89" y1="188.20" x2="260.89" y2="189.40" stroke="#222" stroke-width="0.5"/>
<text x="262.39" y="190.00" font-size="4.1" text-anchor="end" fill="#111" font-weight="bold" transform="rotate(-90 262.39 190.00)" stroke="#111" stroke-width="0.1">ALL-10</text>
<rect x="265.02" y="187.10" width="3.40" height="1.09" fill="#f2f2f2" stroke="#444" stroke-width="0.65"/>
<line x1="266.72" y1="188.20" x2="266.72" y2="189.40" stroke="#222" stroke-width="0.5"/>
<text x="268.22" y="190.00" font-size="4.1" text-anchor="end" fill="#111" font-weight="bold" transform="rotate(-90 268.22 190.00)" stroke="#111" stroke-width="0.1">ALL-11</text>
<rect x="270.85" y="184.55" width="3.40" height="3.65" fill="#f2f2f2" stroke="#444" stroke-width="0.65"/>
<line x1="272.55" y1="188.20" x2="272.55" y2="189.40" stroke="#222" stroke-width="0.5"/>
<text x="274.05" y="190.00" font-size="4.1" text-anchor="end" fill="#111" font-weight="bold" transform="rotate(-90 274.05 190.00)" stroke="#111" stroke-width="0.1">ALL-17</text>
<rect x="276.68" y="187.47" width="3.40" height="0.73" fill="#f2f2f2" stroke="#444" stroke-width="0.65"/>
<line x1="278.38" y1="188.20" x2="278.38" y2="189.40" stroke="#222" stroke-width="0.5"/>
<text x="279.88" y="190.00" font-size="4.1" text-anchor="end" fill="#111" font-weight="bold" transform="rotate(-90 279.88 190.00)" stroke="#111" stroke-width="0.1">ALL-19</text>
<text x="167.70" y="161.10" font-size="6.6" text-anchor="middle" fill="#222" transform="rotate(-90 167.70 161.10)">AKR1C3</text>
<text x="174.60" y="159.70" font-size="6.4" text-anchor="middle" fill="#222" transform="rotate(-90 174.60 159.70)">Protein Expression</text>
<line x1="181.70" y1="232.60" x2="281.10" y2="232.60" stroke="#444" stroke-width="0.8"/>
<line x1="281.10" y1="232.60" x2="281.10" y2="300.20" stroke="#444" stroke-width="0.8"/>
<line x1="181.70" y1="232.60" x2="181.70" y2="300.20" stroke="#222" stroke-width="0.8"/>
<line x1="181.70" y1="300.20" x2="281.10" y2="300.20" stroke="#222" stroke-width="0.8"/>
<line x1="179.90" y1="300.20" x2="181.70" y2="300.20" stroke="#222" stroke-width="0.6"/>
<text x="179.50" y="301.85" font-size="4.6" text-anchor="end" fill="#222" textLength="2.2" lengthAdjust="spacingAndGlyphs">0</text>
<line x1="179.90" y1="288.93" x2="181.70" y2="288.93" stroke="#222" stroke-width="0.6"/>
<text x="179.50" y="290.58" font-size="4.6" text-anchor="end" fill="#222" textLength="2.2" lengthAdjust="spacingAndGlyphs">3</text>
<line x1="179.90" y1="277.67" x2="181.70" y2="277.67" stroke="#222" stroke-width="0.6"/>
<text x="179.50" y="279.32" font-size="4.6" text-anchor="end" fill="#222" textLength="2.2" lengthAdjust="spacingAndGlyphs">6</text>
<line x1="179.90" y1="266.40" x2="181.70" y2="266.40" stroke="#222" stroke-width="0.6"/>
<text x="179.50" y="268.05" font-size="4.6" text-anchor="end" fill="#222" textLength="2.2" lengthAdjust="spacingAndGlyphs">9</text>
<line x1="179.90" y1="255.13" x2="181.70" y2="255.13" stroke="#222" stroke-width="0.6"/>
<text x="179.50" y="256.78" font-size="4.6" text-anchor="end" fill="#222" textLength="4.4" lengthAdjust="spacingAndGlyphs">12</text>
<line x1="179.90" y1="243.87" x2="181.70" y2="243.87" stroke="#222" stroke-width="0.6"/>
<text x="179.50" y="245.52" font-size="4.6" text-anchor="end" fill="#222" textLength="4.4" lengthAdjust="spacingAndGlyphs">15</text>
<line x1="179.90" y1="232.60" x2="181.70" y2="232.60" stroke="#222" stroke-width="0.6"/>
<text x="179.50" y="234.25" font-size="4.6" text-anchor="end" fill="#222" textLength="4.4" lengthAdjust="spacingAndGlyphs">18</text>
<line x1="183.20" y1="238.40" x2="232.30" y2="238.40" stroke="#555" stroke-width="0.9"/>
<line x1="236.00" y1="238.40" x2="278.50" y2="238.40" stroke="#555" stroke-width="0.9"/>
<text x="204.80" y="237.30" font-size="4.6" text-anchor="middle" fill="#333">T-ALL</text>
<text x="255.80" y="237.30" font-size="4.6" text-anchor="middle" fill="#333">B-ALL</text>
<text x="277.60" y="256.00" font-size="4.8" text-anchor="end" fill="#444"><tspan font-style="italic">P</tspan> &lt; 0.0001</text>
<line x1="184.50" y1="263.77" x2="184.50" y2="266.02" stroke="#555" stroke-width="0.5"/>
<line x1="183.70" y1="263.77" x2="185.30" y2="263.77" stroke="#555" stroke-width="0.5"/>
<rect x="182.50" y="266.02" width="4.00" height="34.18" fill="#000"/>
<line x1="184.50" y1="300.20" x2="184.50" y2="301.40" stroke="#222" stroke-width="0.5"/>
<text x="186.00" y="302.00" font-size="4.1" text-anchor="end" fill="#111" font-weight="bold" transform="rotate(-90 186.00 302.00)" stroke="#111" stroke-width="0.1">ALL-8</text>
<line x1="190.36" y1="245.37" x2="190.36" y2="250.25" stroke="#555" stroke-width="0.5"/>
<line x1="189.56" y1="245.37" x2="191.16" y2="245.37" stroke="#555" stroke-width="0.5"/>
<rect x="188.36" y="250.25" width="4.00" height="49.95" fill="#000"/>
<line x1="190.36" y1="300.20" x2="190.36" y2="301.40" stroke="#222" stroke-width="0.5"/>
<text x="191.86" y="302.00" font-size="4.1" text-anchor="end" fill="#111" font-weight="bold" transform="rotate(-90 191.86 302.00)" stroke="#111" stroke-width="0.1">ALL-16</text>
<line x1="196.22" y1="267.90" x2="196.22" y2="269.03" stroke="#555" stroke-width="0.5"/>
<line x1="195.42" y1="267.90" x2="197.02" y2="267.90" stroke="#555" stroke-width="0.5"/>
<rect x="194.22" y="269.03" width="4.00" height="31.17" fill="#000"/>
<line x1="196.22" y1="300.20" x2="196.22" y2="301.40" stroke="#222" stroke-width="0.5"/>
<text x="197.72" y="302.00" font-size="4.1" text-anchor="end" fill="#111" font-weight="bold" transform="rotate(-90 197.72 302.00)" stroke="#111" stroke-width="0.1">ALL-27</text>
<rect x="200.08" y="288.75" width="4.00" height="11.45" fill="#000"/>
<line x1="202.08" y1="300.20" x2="202.08" y2="301.40" stroke="#222" stroke-width="0.5"/>
<text x="203.58" y="302.00" font-size="4.1" text-anchor="end" fill="#111" font-weight="bold" transform="rotate(-90 203.58 302.00)" stroke="#111" stroke-width="0.1">ALL-29</text>
<line x1="207.94" y1="264.52" x2="207.94" y2="265.27" stroke="#555" stroke-width="0.5"/>
<line x1="207.14" y1="264.52" x2="208.74" y2="264.52" stroke="#555" stroke-width="0.5"/>
<rect x="205.94" y="265.27" width="4.00" height="34.93" fill="#000"/>
<line x1="207.94" y1="300.20" x2="207.94" y2="301.40" stroke="#222" stroke-width="0.5"/>
<text x="209.44" y="302.00" font-size="4.1" text-anchor="end" fill="#111" font-weight="bold" transform="rotate(-90 209.44 302.00)" stroke="#111" stroke-width="0.1">ALL-30</text>
<line x1="213.80" y1="277.67" x2="213.80" y2="283.30" stroke="#555" stroke-width="0.5"/>
<line x1="213.00" y1="277.67" x2="214.60" y2="277.67" stroke="#555" stroke-width="0.5"/>
<rect x="211.80" y="283.30" width="4.00" height="16.90" fill="#000"/>
<line x1="213.80" y1="300.20" x2="213.80" y2="301.40" stroke="#222" stroke-width="0.5"/>
<text x="215.30" y="302.00" font-size="4.1" text-anchor="end" fill="#111" font-weight="bold" transform="rotate(-90 215.30 302.00)" stroke="#111" stroke-width="0.1">ALL-31</text>
<line x1="219.66" y1="278.04" x2="219.66" y2="278.42" stroke="#555" stroke-width="0.5"/>
<line x1="218.86" y1="278.04" x2="220.46" y2="278.04" stroke="#555" stroke-width="0.5"/>
<rect x="217.66" y="278.42" width="4.00" height="21.78" fill="#000"/>
<line x1="219.66" y1="300.20" x2="219.66" y2="301.40" stroke="#222" stroke-width="0.5"/>
<text x="221.16" y="302.00" font-size="4.1" text-anchor="end" fill="#111" font-weight="bold" transform="rotate(-90 221.16 302.00)" stroke="#111" stroke-width="0.1">ALL-32</text>
<line x1="225.52" y1="265.65" x2="225.52" y2="270.16" stroke="#555" stroke-width="0.5"/>
<line x1="224.72" y1="265.65" x2="226.32" y2="265.65" stroke="#555" stroke-width="0.5"/>
<rect x="223.52" y="270.16" width="4.00" height="30.04" fill="#000"/>
<line x1="225.52" y1="300.20" x2="225.52" y2="301.40" stroke="#222" stroke-width="0.5"/>
<text x="227.02" y="302.00" font-size="4.1" text-anchor="end" fill="#111" font-weight="bold" transform="rotate(-90 227.02 302.00)" stroke="#111" stroke-width="0.1">ALL-33</text>
<line x1="231.38" y1="300.20" x2="231.38" y2="301.40" stroke="#222" stroke-width="0.5"/>
<text x="232.88" y="302.00" font-size="4.1" text-anchor="end" fill="#111" font-weight="bold" transform="rotate(-90 232.88 302.00)" stroke="#111" stroke-width="0.1">ALL-42</text>
<line x1="237.24" y1="289.31" x2="237.24" y2="293.82" stroke="#555" stroke-width="0.5"/>
<line x1="236.44" y1="289.31" x2="238.04" y2="289.31" stroke="#555" stroke-width="0.5"/>
<rect x="235.54" y="293.82" width="3.40" height="6.38" fill="#f2f2f2" stroke="#444" stroke-width="0.65"/>
<line x1="237.24" y1="300.20" x2="237.24" y2="301.40" stroke="#222" stroke-width="0.5"/>
<text x="238.74" y="302.00" font-size="4.1" text-anchor="end" fill="#111" font-weight="bold" transform="rotate(-90 238.74 302.00)" stroke="#111" stroke-width="0.1">ALL-2</text>
<rect x="241.40" y="297.95" width="3.40" height="2.25" fill="#f2f2f2" stroke="#444" stroke-width="0.65"/>
<line x1="243.10" y1="300.20" x2="243.10" y2="301.40" stroke="#222" stroke-width="0.5"/>
<text x="244.60" y="302.00" font-size="4.1" text-anchor="end" fill="#111" font-weight="bold" transform="rotate(-90 244.60 302.00)" stroke="#111" stroke-width="0.1">ALL-3</text>
<line x1="248.96" y1="300.20" x2="248.96" y2="301.40" stroke="#222" stroke-width="0.5"/>
<text x="250.46" y="302.00" font-size="4.1" text-anchor="end" fill="#111" font-weight="bold" transform="rotate(-90 250.46 302.00)" stroke="#111" stroke-width="0.1">ALL-4</text>
<line x1="254.82" y1="289.68" x2="254.82" y2="292.69" stroke="#555" stroke-width="0.5"/>
<line x1="254.02" y1="289.68" x2="255.62" y2="289.68" stroke="#555" stroke-width="0.5"/>
<rect x="253.12" y="292.69" width="3.40" height="7.51" fill="#f2f2f2" stroke="#444" stroke-width="0.65"/>
<line x1="254.82" y1="300.20" x2="254.82" y2="301.40" stroke="#222" stroke-width="0.5"/>
<text x="256.32" y="302.00" font-size="4.1" text-anchor="end" fill="#111" font-weight="bold" transform="rotate(-90 256.32 302.00)" stroke="#111" stroke-width="0.1">ALL-7</text>
<line x1="260.68" y1="300.20" x2="260.68" y2="301.40" stroke="#222" stroke-width="0.5"/>
<text x="262.18" y="302.00" font-size="4.1" text-anchor="end" fill="#111" font-weight="bold" transform="rotate(-90 262.18 302.00)" stroke="#111" stroke-width="0.1">ALL-10</text>
<rect x="264.84" y="299.07" width="3.40" height="1.13" fill="#f2f2f2" stroke="#444" stroke-width="0.65"/>
<line x1="266.54" y1="300.20" x2="266.54" y2="301.40" stroke="#222" stroke-width="0.5"/>
<text x="268.04" y="302.00" font-size="4.1" text-anchor="end" fill="#111" font-weight="bold" transform="rotate(-90 268.04 302.00)" stroke="#111" stroke-width="0.1">ALL-11</text>
<rect x="270.70" y="297.57" width="3.40" height="2.63" fill="#f2f2f2" stroke="#444" stroke-width="0.65"/>
<line x1="272.40" y1="300.20" x2="272.40" y2="301.40" stroke="#222" stroke-width="0.5"/>
<text x="273.90" y="302.00" font-size="4.1" text-anchor="end" fill="#111" font-weight="bold" transform="rotate(-90 273.90 302.00)" stroke="#111" stroke-width="0.1">ALL-17</text>
<line x1="278.26" y1="300.20" x2="278.26" y2="301.40" stroke="#222" stroke-width="0.5"/>
<text x="279.76" y="302.00" font-size="4.1" text-anchor="end" fill="#111" font-weight="bold" transform="rotate(-90 279.76 302.00)" stroke="#111" stroke-width="0.1">ALL-19</text>
<text x="172.60" y="266.30" font-size="6.3" text-anchor="middle" fill="#222" transform="rotate(-90 172.60 266.30)">Coumberol formation</text>
<text x="177.90" y="210.20" font-size="4.9" text-anchor="end" fill="#222">Actin</text>
<text x="182.00" y="216.60" font-size="5.3" text-anchor="end" fill="#222">AKR1C3</text>
<rect x="183.07" y="208.1" width="5.6" height="2.0" rx="0.5" fill="#151515"/>
<rect x="183.17" y="213.30" width="5.5" height="3.2" rx="0.8" fill="#050505"/>
<rect x="188.72" y="208.1" width="5.6" height="2.0" rx="0.5" fill="#151515"/>
<rect x="188.82" y="213.30" width="5.5" height="3.2" rx="0.8" fill="#050505"/>
<rect x="194.37" y="208.1" width="5.6" height="2.0" rx="0.5" fill="#151515"/>
<rect x="194.47" y="213.30" width="5.5" height="3.2" rx="0.8" fill="#0a0a0a"/>
<rect x="200.02" y="208.1" width="5.6" height="2.0" rx="0.5" fill="#151515"/>
<rect x="200.12" y="214.30" width="5.5" height="1.2" rx="0.8" fill="#444"/>
<rect x="205.67" y="208.1" width="5.6" height="2.0" rx="0.5" fill="#151515"/>
<rect x="205.77" y="213.60" width="5.5" height="2.6" rx="0.8" fill="#111"/>
<rect x="211.32" y="208.1" width="5.6" height="2.0" rx="0.5" fill="#151515"/>
<rect x="211.42" y="213.60" width="5.5" height="2.6" rx="0.8" fill="#111"/>
<rect x="216.97" y="208.1" width="5.6" height="2.0" rx="0.5" fill="#151515"/>
<rect x="217.07" y="213.60" width="5.5" height="2.6" rx="0.8" fill="#151515"/>
<rect x="222.62" y="208.1" width="5.6" height="2.0" rx="0.5" fill="#151515"/>
<rect x="222.72" y="213.90" width="5.5" height="2.0" rx="0.8" fill="#333"/>
<rect x="228.27" y="208.1" width="5.6" height="2.0" rx="0.5" fill="#151515"/>
<rect x="233.92" y="208.1" width="5.6" height="2.0" rx="0.5" fill="#151515"/>
<rect x="234.02" y="213.90" width="5.5" height="2.0" rx="0.8" fill="#333"/>
<rect x="239.57" y="208.1" width="5.6" height="2.0" rx="0.5" fill="#151515"/>
<rect x="239.67" y="214.20" width="5.5" height="1.4" rx="0.8" fill="#aaa"/>
<rect x="245.22" y="208.1" width="5.6" height="2.0" rx="0.5" fill="#151515"/>
<rect x="250.87" y="208.1" width="5.6" height="2.0" rx="0.5" fill="#151515"/>
<rect x="250.97" y="213.80" width="5.5" height="2.2" rx="0.8" fill="#151515"/>
<rect x="256.52" y="208.1" width="5.6" height="2.0" rx="0.5" fill="#151515"/>
<rect x="256.62" y="214.20" width="5.5" height="1.4" rx="0.8" fill="#aaa"/>
<rect x="262.17" y="208.1" width="5.6" height="2.0" rx="0.5" fill="#151515"/>
<rect x="262.27" y="214.20" width="5.5" height="1.4" rx="0.8" fill="#b0b0b0"/>
<rect x="267.82" y="208.1" width="5.6" height="2.0" rx="0.5" fill="#151515"/>
<rect x="267.92" y="214.00" width="5.5" height="1.8" rx="0.8" fill="#555"/>
<rect x="273.47" y="208.1" width="5.6" height="2.0" rx="0.5" fill="#151515"/>
<rect x="229.0" y="211.5" width="4.5" height="6" fill="#f4f4d0" opacity="0.8"/>
<line x1="296.30" y1="18.90" x2="396.40" y2="18.90" stroke="#444" stroke-width="0.9"/>
<line x1="396.40" y1="18.90" x2="396.40" y2="85.40" stroke="#444" stroke-width="0.9"/>
<line x1="296.30" y1="18.90" x2="296.30" y2="85.40" stroke="#222" stroke-width="0.9"/>
<line x1="296.30" y1="85.40" x2="396.40" y2="85.40" stroke="#222" stroke-width="0.9"/>
<line x1="294.70" y1="85.40" x2="296.30" y2="85.40" stroke="#222" stroke-width="0.6"/>
<text x="294.10" y="87.30" font-size="5.3" text-anchor="end" fill="#222" font-weight="bold">0</text>
<line x1="294.70" y1="63.23" x2="296.30" y2="63.23" stroke="#222" stroke-width="0.6"/>
<text x="294.10" y="65.13" font-size="5.3" text-anchor="end" fill="#222" font-weight="bold">20</text>
<line x1="294.70" y1="41.07" x2="296.30" y2="41.07" stroke="#222" stroke-width="0.6"/>
<text x="294.10" y="42.97" font-size="5.3" text-anchor="end" fill="#222" font-weight="bold">40</text>
<line x1="294.70" y1="18.90" x2="296.30" y2="18.90" stroke="#222" stroke-width="0.6"/>
<text x="294.10" y="20.80" font-size="5.3" text-anchor="end" fill="#222" font-weight="bold">60</text>
<line x1="296.30" y1="85.40" x2="296.30" y2="86.80" stroke="#222" stroke-width="0.6"/>
<text x="296.30" y="93.40" font-size="5.3" text-anchor="middle" fill="#222" font-weight="bold">0</text>
<line x1="308.81" y1="85.40" x2="308.81" y2="86.80" stroke="#222" stroke-width="0.6"/>
<text x="308.81" y="93.40" font-size="5.3" text-anchor="middle" fill="#222" font-weight="bold">10</text>
<line x1="321.32" y1="85.40" x2="321.32" y2="86.80" stroke="#222" stroke-width="0.6"/>
<text x="321.32" y="93.40" font-size="5.3" text-anchor="middle" fill="#222" font-weight="bold">20</text>
<line x1="333.84" y1="85.40" x2="333.84" y2="86.80" stroke="#222" stroke-width="0.6"/>
<text x="333.84" y="93.40" font-size="5.3" text-anchor="middle" fill="#222" font-weight="bold">30</text>
<line x1="346.35" y1="85.40" x2="346.35" y2="86.80" stroke="#222" stroke-width="0.6"/>
<text x="346.35" y="93.40" font-size="5.3" text-anchor="middle" fill="#222" font-weight="bold">40</text>
<line x1="358.86" y1="85.40" x2="358.86" y2="86.80" stroke="#222" stroke-width="0.6"/>
<text x="358.86" y="93.40" font-size="5.3" text-anchor="middle" fill="#222" font-weight="bold">50</text>
<line x1="371.38" y1="85.40" x2="371.38" y2="86.80" stroke="#222" stroke-width="0.6"/>
<text x="371.38" y="93.40" font-size="5.3" text-anchor="middle" fill="#222" font-weight="bold">60</text>
<line x1="383.89" y1="85.40" x2="383.89" y2="86.80" stroke="#222" stroke-width="0.6"/>
<text x="383.89" y="93.40" font-size="5.3" text-anchor="middle" fill="#222" font-weight="bold">70</text>
<line x1="396.40" y1="85.40" x2="396.40" y2="86.80" stroke="#222" stroke-width="0.6"/>
<text x="396.40" y="93.40" font-size="5.3" text-anchor="middle" fill="#222" font-weight="bold">80</text>
<line x1="298.18" y1="56.03" x2="351.36" y2="85.40" stroke="#222" stroke-width="0.75"/>
<circle cx="306.94" cy="79.86" r="0.95" fill="#fff" stroke="#999" stroke-width="0.6"/>
<circle cx="315.07" cy="85.40" r="0.95" fill="#fff" stroke="#999" stroke-width="0.6"/>
<circle cx="333.84" cy="85.40" r="0.95" fill="#fff" stroke="#999" stroke-width="0.6"/>
<circle cx="333.84" cy="84.62" r="0.95" fill="#fff" stroke="#999" stroke-width="0.6"/>
<circle cx="348.85" cy="79.86" r="0.95" fill="#fff" stroke="#999" stroke-width="0.6"/>
<circle cx="352.61" cy="85.40" r="0.95" fill="#fff" stroke="#999" stroke-width="0.6"/>
<circle cx="373.88" cy="85.40" r="0.95" fill="#fff" stroke="#999" stroke-width="0.6"/>
<circle cx="297.55" cy="38.85" r="1.35" fill="#000"/>
<circle cx="298.80" cy="38.85" r="1.35" fill="#000"/>
<circle cx="300.05" cy="38.85" r="1.35" fill="#000"/>
<circle cx="300.68" cy="38.52" r="1.35" fill="#000"/>
<circle cx="299.43" cy="52.15" r="1.35" fill="#000"/>
<circle cx="299.43" cy="54.37" r="1.35" fill="#000"/>
<circle cx="299.43" cy="55.48" r="1.35" fill="#000"/>
<circle cx="301.31" cy="59.35" r="1.35" fill="#000"/>
<circle cx="299.43" cy="63.79" r="1.35" fill="#000"/>
<circle cx="307.06" cy="55.48" r="1.35" fill="#000"/>
<circle cx="308.56" cy="55.48" r="1.35" fill="#000"/>
<circle cx="326.33" cy="85.40" r="1.35" fill="#000"/>
<text x="365.20" y="28.70" font-size="4.8" text-anchor="start" fill="#333"><tspan font-style="italic">P</tspan> = 0.0001</text>
<text x="365.20" y="34.70" font-size="4.8" text-anchor="start" fill="#333"><tspan font-style="italic">R</tspan> = -0.82</text>
<text x="365.20" y="40.70" font-size="4.8" text-anchor="start" fill="#333"><tspan font-style="italic">n</tspan> = 17</text>
<text x="346.35" y="101.00" font-size="5.6" text-anchor="middle" fill="#111" font-weight="bold">IC<tspan font-size="3.4" dy="1">50</tspan><tspan dy="-1"> (μM)</tspan></text>
<line x1="415.30" y1="19.50" x2="514.40" y2="19.50" stroke="#444" stroke-width="0.9"/>
<line x1="514.40" y1="19.50" x2="514.40" y2="86.40" stroke="#444" stroke-width="0.9"/>
<line x1="415.30" y1="19.50" x2="415.30" y2="86.40" stroke="#222" stroke-width="0.9"/>
<line x1="415.30" y1="86.40" x2="514.40" y2="86.40" stroke="#222" stroke-width="0.9"/>
<line x1="413.70" y1="86.40" x2="415.30" y2="86.40" stroke="#222" stroke-width="0.6"/>
<text x="413.10" y="88.30" font-size="5.3" text-anchor="end" fill="#222" font-weight="bold">0</text>
<line x1="413.70" y1="64.10" x2="415.30" y2="64.10" stroke="#222" stroke-width="0.6"/>
<text x="413.10" y="66.00" font-size="5.3" text-anchor="end" fill="#222" font-weight="bold">20</text>
<line x1="413.70" y1="41.80" x2="415.30" y2="41.80" stroke="#222" stroke-width="0.6"/>
<text x="413.10" y="43.70" font-size="5.3" text-anchor="end" fill="#222" font-weight="bold">40</text>
<line x1="413.70" y1="19.50" x2="415.30" y2="19.50" stroke="#222" stroke-width="0.6"/>
<text x="413.10" y="21.40" font-size="5.3" text-anchor="end" fill="#222" font-weight="bold">60</text>
<line x1="415.30" y1="86.40" x2="415.30" y2="87.80" stroke="#222" stroke-width="0.6"/>
<text x="415.30" y="94.40" font-size="5.3" text-anchor="middle" fill="#222" font-weight="bold">0</text>
<line x1="431.82" y1="86.40" x2="431.82" y2="87.80" stroke="#222" stroke-width="0.6"/>
<text x="431.82" y="94.40" font-size="5.3" text-anchor="middle" fill="#222" font-weight="bold">10</text>
<line x1="448.33" y1="86.40" x2="448.33" y2="87.80" stroke="#222" stroke-width="0.6"/>
<text x="448.33" y="94.40" font-size="5.3" text-anchor="middle" fill="#222" font-weight="bold">20</text>
<line x1="464.85" y1="86.40" x2="464.85" y2="87.80" stroke="#222" stroke-width="0.6"/>
<text x="464.85" y="94.40" font-size="5.3" text-anchor="middle" fill="#222" font-weight="bold">30</text>
<line x1="481.37" y1="86.40" x2="481.37" y2="87.80" stroke="#222" stroke-width="0.6"/>
<text x="481.37" y="94.40" font-size="5.3" text-anchor="middle" fill="#222" font-weight="bold">40</text>
<line x1="497.88" y1="86.40" x2="497.88" y2="87.80" stroke="#222" stroke-width="0.6"/>
<text x="497.88" y="94.40" font-size="5.3" text-anchor="middle" fill="#222" font-weight="bold">50</text>
<line x1="514.40" y1="86.40" x2="514.40" y2="87.80" stroke="#222" stroke-width="0.6"/>
<text x="514.40" y="94.40" font-size="5.3" text-anchor="middle" fill="#222" font-weight="bold">60</text>
<line x1="438.42" y1="86.40" x2="513.57" y2="43.47" stroke="#222" stroke-width="0.75"/>
<circle cx="442.22" cy="80.27" r="0.95" fill="#fff" stroke="#999" stroke-width="0.6"/>
<circle cx="432.15" cy="86.40" r="0.95" fill="#fff" stroke="#999" stroke-width="0.6"/>
<circle cx="451.64" cy="86.40" r="0.95" fill="#fff" stroke="#999" stroke-width="0.6"/>
<circle cx="488.30" cy="60.09" r="1.35" fill="#000"/>
<circle cx="488.80" cy="56.30" r="1.35" fill="#000"/>
<circle cx="504.82" cy="52.73" r="1.35" fill="#000"/>
<circle cx="513.57" cy="39.57" r="1.35" fill="#000"/>
<text x="420.80" y="28.80" font-size="4.8" text-anchor="start" fill="#333"><tspan font-style="italic">P</tspan> = 0.01</text>
<text x="420.80" y="34.10" font-size="4.8" text-anchor="start" fill="#333"><tspan font-style="italic">R</tspan> = 0.89</text>
<text x="420.80" y="39.40" font-size="4.8" text-anchor="start" fill="#333"><tspan font-style="italic">n</tspan> = 7</text>
<text x="464.85" y="102.00" font-size="5.6" text-anchor="middle" fill="#111" font-weight="bold">LGD (days)</text>
<line x1="296.30" y1="122.00" x2="396.30" y2="122.00" stroke="#444" stroke-width="0.9"/>
<line x1="396.30" y1="122.00" x2="396.30" y2="188.50" stroke="#444" stroke-width="0.9"/>
<line x1="296.30" y1="122.00" x2="296.30" y2="188.50" stroke="#222" stroke-width="0.9"/>
<line x1="296.30" y1="188.50" x2="396.30" y2="188.50" stroke="#222" stroke-width="0.9"/>
<line x1="294.70" y1="188.50" x2="296.30" y2="188.50" stroke="#222" stroke-width="0.6"/>
<text x="294.10" y="190.40" font-size="5.3" text-anchor="end" fill="#222" font-weight="bold">0</text>
<line x1="294.70" y1="166.33" x2="296.30" y2="166.33" stroke="#222" stroke-width="0.6"/>
<text x="294.10" y="168.23" font-size="5.3" text-anchor="end" fill="#222" font-weight="bold">30</text>
<line x1="294.70" y1="144.17" x2="296.30" y2="144.17" stroke="#222" stroke-width="0.6"/>
<text x="294.10" y="146.07" font-size="5.3" text-anchor="end" fill="#222" font-weight="bold">60</text>
<line x1="294.70" y1="122.00" x2="296.30" y2="122.00" stroke="#222" stroke-width="0.6"/>
<text x="294.10" y="123.90" font-size="5.3" text-anchor="end" fill="#222" font-weight="bold">90</text>
<line x1="296.30" y1="188.50" x2="296.30" y2="189.90" stroke="#222" stroke-width="0.6"/>
<text x="296.30" y="196.50" font-size="5.3" text-anchor="middle" fill="#222" font-weight="bold">0</text>
<line x1="308.80" y1="188.50" x2="308.80" y2="189.90" stroke="#222" stroke-width="0.6"/>
<text x="308.80" y="196.50" font-size="5.3" text-anchor="middle" fill="#222" font-weight="bold">10</text>
<line x1="321.30" y1="188.50" x2="321.30" y2="189.90" stroke="#222" stroke-width="0.6"/>
<text x="321.30" y="196.50" font-size="5.3" text-anchor="middle" fill="#222" font-weight="bold">20</text>
<line x1="333.80" y1="188.50" x2="333.80" y2="189.90" stroke="#222" stroke-width="0.6"/>
<text x="333.80" y="196.50" font-size="5.3" text-anchor="middle" fill="#222" font-weight="bold">30</text>
<line x1="346.30" y1="188.50" x2="346.30" y2="189.90" stroke="#222" stroke-width="0.6"/>
<text x="346.30" y="196.50" font-size="5.3" text-anchor="middle" fill="#222" font-weight="bold">40</text>
<line x1="358.80" y1="188.50" x2="358.80" y2="189.90" stroke="#222" stroke-width="0.6"/>
<text x="358.80" y="196.50" font-size="5.3" text-anchor="middle" fill="#222" font-weight="bold">50</text>
<line x1="371.30" y1="188.50" x2="371.30" y2="189.90" stroke="#222" stroke-width="0.6"/>
<text x="371.30" y="196.50" font-size="5.3" text-anchor="middle" fill="#222" font-weight="bold">60</text>
<line x1="383.80" y1="188.50" x2="383.80" y2="189.90" stroke="#222" stroke-width="0.6"/>
<text x="383.80" y="196.50" font-size="5.3" text-anchor="middle" fill="#222" font-weight="bold">70</text>
<line x1="396.30" y1="188.50" x2="396.30" y2="189.90" stroke="#222" stroke-width="0.6"/>
<text x="396.30" y="196.50" font-size="5.3" text-anchor="middle" fill="#222" font-weight="bold">80</text>
<line x1="297.55" y1="161.16" x2="351.93" y2="188.50" stroke="#222" stroke-width="0.75"/>
<circle cx="307.55" cy="173.72" r="0.95" fill="#fff" stroke="#999" stroke-width="0.6"/>
<circle cx="315.05" cy="188.50" r="0.95" fill="#fff" stroke="#999" stroke-width="0.6"/>
<circle cx="333.80" cy="187.02" r="0.95" fill="#fff" stroke="#999" stroke-width="0.6"/>
<circle cx="348.80" cy="184.81" r="0.95" fill="#fff" stroke="#999" stroke-width="0.6"/>
<circle cx="351.93" cy="184.81" r="0.95" fill="#fff" stroke="#999" stroke-width="0.6"/>
<circle cx="373.80" cy="188.50" r="0.95" fill="#fff" stroke="#999" stroke-width="0.6"/>
<circle cx="298.18" cy="134.71" r="1.35" fill="#000"/>
<circle cx="300.05" cy="149.63" r="1.35" fill="#000"/>
<circle cx="299.43" cy="153.77" r="1.35" fill="#000"/>
<circle cx="299.43" cy="173.28" r="1.35" fill="#000"/>
<circle cx="300.68" cy="176.09" r="1.35" fill="#000"/>
<circle cx="308.18" cy="163.38" r="1.35" fill="#000"/>
<circle cx="307.55" cy="171.21" r="1.35" fill="#000"/>
<circle cx="326.30" cy="186.06" r="1.35" fill="#000"/>
<text x="369.00" y="130.40" font-size="4.8" text-anchor="start" fill="#333"><tspan font-style="italic">P</tspan> &lt; 0.0001</text>
<text x="369.00" y="136.10" font-size="4.8" text-anchor="start" fill="#333"><tspan font-style="italic">R</tspan> = -0.86</text>
<text x="369.00" y="141.80" font-size="4.8" text-anchor="start" fill="#333"><tspan font-style="italic">n</tspan> = 17</text>
<text x="346.30" y="204.10" font-size="5.6" text-anchor="middle" fill="#111" font-weight="bold">IC<tspan font-size="3.4" dy="1">50</tspan><tspan dy="-1"> (μM)</tspan></text>
<line x1="416.20" y1="121.30" x2="515.50" y2="121.30" stroke="#444" stroke-width="0.9"/>
<line x1="515.50" y1="121.30" x2="515.50" y2="187.40" stroke="#444" stroke-width="0.9"/>
<line x1="416.20" y1="121.30" x2="416.20" y2="187.40" stroke="#222" stroke-width="0.9"/>
<line x1="416.20" y1="187.40" x2="515.50" y2="187.40" stroke="#222" stroke-width="0.9"/>
<line x1="414.60" y1="187.40" x2="416.20" y2="187.40" stroke="#222" stroke-width="0.6"/>
<text x="414.00" y="189.30" font-size="5.3" text-anchor="end" fill="#222" font-weight="bold">0</text>
<line x1="414.60" y1="165.37" x2="416.20" y2="165.37" stroke="#222" stroke-width="0.6"/>
<text x="414.00" y="167.27" font-size="5.3" text-anchor="end" fill="#222" font-weight="bold">30</text>
<line x1="414.60" y1="143.33" x2="416.20" y2="143.33" stroke="#222" stroke-width="0.6"/>
<text x="414.00" y="145.23" font-size="5.3" text-anchor="end" fill="#222" font-weight="bold">60</text>
<line x1="414.60" y1="121.30" x2="416.20" y2="121.30" stroke="#222" stroke-width="0.6"/>
<text x="414.00" y="123.20" font-size="5.3" text-anchor="end" fill="#222" font-weight="bold">90</text>
<line x1="416.20" y1="187.40" x2="416.20" y2="188.80" stroke="#222" stroke-width="0.6"/>
<text x="416.20" y="195.40" font-size="5.3" text-anchor="middle" fill="#222" font-weight="bold">0</text>
<line x1="432.75" y1="187.40" x2="432.75" y2="188.80" stroke="#222" stroke-width="0.6"/>
<text x="432.75" y="195.40" font-size="5.3" text-anchor="middle" fill="#222" font-weight="bold">10</text>
<line x1="449.30" y1="187.40" x2="449.30" y2="188.80" stroke="#222" stroke-width="0.6"/>
<text x="449.30" y="195.40" font-size="5.3" text-anchor="middle" fill="#222" font-weight="bold">20</text>
<line x1="465.85" y1="187.40" x2="465.85" y2="188.80" stroke="#222" stroke-width="0.6"/>
<text x="465.85" y="195.40" font-size="5.3" text-anchor="middle" fill="#222" font-weight="bold">30</text>
<line x1="482.40" y1="187.40" x2="482.40" y2="188.80" stroke="#222" stroke-width="0.6"/>
<text x="482.40" y="195.40" font-size="5.3" text-anchor="middle" fill="#222" font-weight="bold">40</text>
<line x1="498.95" y1="187.40" x2="498.95" y2="188.80" stroke="#222" stroke-width="0.6"/>
<text x="498.95" y="195.40" font-size="5.3" text-anchor="middle" fill="#222" font-weight="bold">50</text>
<line x1="515.50" y1="187.40" x2="515.50" y2="188.80" stroke="#222" stroke-width="0.6"/>
<text x="515.50" y="195.40" font-size="5.3" text-anchor="middle" fill="#222" font-weight="bold">60</text>
<line x1="441.02" y1="187.40" x2="514.67" y2="152.88" stroke="#222" stroke-width="0.75"/>
<circle cx="442.68" cy="181.97" r="0.95" fill="#fff" stroke="#999" stroke-width="0.6"/>
<circle cx="433.25" cy="187.40" r="0.95" fill="#fff" stroke="#999" stroke-width="0.6"/>
<circle cx="452.61" cy="187.40" r="0.95" fill="#fff" stroke="#999" stroke-width="0.6"/>
<circle cx="489.85" cy="161.69" r="1.35" fill="#000"/>
<circle cx="489.85" cy="173.45" r="1.35" fill="#000"/>
<circle cx="506.40" cy="151.78" r="1.35" fill="#000"/>
<circle cx="514.67" cy="148.47" r="1.35" fill="#000"/>
<text x="419.90" y="132.00" font-size="4.8" text-anchor="start" fill="#333"><tspan font-style="italic">P</tspan> = 0.01</text>
<text x="419.90" y="137.45" font-size="4.8" text-anchor="start" fill="#333"><tspan font-style="italic">R</tspan> = 0.89</text>
<text x="419.90" y="142.90" font-size="4.8" text-anchor="start" fill="#333"><tspan font-style="italic">n</tspan> = 7</text>
<text x="465.85" y="203.00" font-size="5.6" text-anchor="middle" fill="#111" font-weight="bold">LGD (days)</text>
<line x1="296.60" y1="233.30" x2="396.40" y2="233.30" stroke="#444" stroke-width="0.9"/>
<line x1="396.40" y1="233.30" x2="396.40" y2="299.70" stroke="#444" stroke-width="0.9"/>
<line x1="296.60" y1="233.30" x2="296.60" y2="299.70" stroke="#222" stroke-width="0.9"/>
<line x1="296.60" y1="299.70" x2="396.40" y2="299.70" stroke="#222" stroke-width="0.9"/>
<line x1="295.00" y1="299.70" x2="296.60" y2="299.70" stroke="#222" stroke-width="0.6"/>
<text x="294.40" y="301.60" font-size="5.3" text-anchor="end" fill="#222" font-weight="bold">0</text>
<line x1="295.00" y1="288.63" x2="296.60" y2="288.63" stroke="#222" stroke-width="0.6"/>
<text x="294.40" y="290.53" font-size="5.3" text-anchor="end" fill="#222" font-weight="bold">3</text>
<line x1="295.00" y1="277.57" x2="296.60" y2="277.57" stroke="#222" stroke-width="0.6"/>
<text x="294.40" y="279.47" font-size="5.3" text-anchor="end" fill="#222" font-weight="bold">6</text>
<line x1="295.00" y1="266.50" x2="296.60" y2="266.50" stroke="#222" stroke-width="0.6"/>
<text x="294.40" y="268.40" font-size="5.3" text-anchor="end" fill="#222" font-weight="bold">9</text>
<line x1="295.00" y1="255.43" x2="296.60" y2="255.43" stroke="#222" stroke-width="0.6"/>
<text x="294.40" y="257.33" font-size="5.3" text-anchor="end" fill="#222" font-weight="bold">12</text>
<line x1="295.00" y1="244.37" x2="296.60" y2="244.37" stroke="#222" stroke-width="0.6"/>
<text x="294.40" y="246.27" font-size="5.3" text-anchor="end" fill="#222" font-weight="bold">15</text>
<line x1="295.00" y1="233.30" x2="296.60" y2="233.30" stroke="#222" stroke-width="0.6"/>
<text x="294.40" y="235.20" font-size="5.3" text-anchor="end" fill="#222" font-weight="bold">18</text>
<line x1="296.60" y1="299.70" x2="296.60" y2="301.10" stroke="#222" stroke-width="0.6"/>
<text x="296.60" y="307.70" font-size="5.3" text-anchor="middle" fill="#222" font-weight="bold">0</text>
<line x1="321.55" y1="299.70" x2="321.55" y2="301.10" stroke="#222" stroke-width="0.6"/>
<text x="321.55" y="307.70" font-size="5.3" text-anchor="middle" fill="#222" font-weight="bold">20</text>
<line x1="346.50" y1="299.70" x2="346.50" y2="301.10" stroke="#222" stroke-width="0.6"/>
<text x="346.50" y="307.70" font-size="5.3" text-anchor="middle" fill="#222" font-weight="bold">40</text>
<line x1="371.45" y1="299.70" x2="371.45" y2="301.10" stroke="#222" stroke-width="0.6"/>
<text x="371.45" y="307.70" font-size="5.3" text-anchor="middle" fill="#222" font-weight="bold">60</text>
<line x1="396.40" y1="299.70" x2="396.40" y2="301.10" stroke="#222" stroke-width="0.6"/>
<text x="396.40" y="307.70" font-size="5.3" text-anchor="middle" fill="#222" font-weight="bold">80</text>
<line x1="296.60" y1="273.88" x2="351.49" y2="299.70" stroke="#222" stroke-width="0.75"/>
<circle cx="307.83" cy="292.69" r="0.95" fill="#fff" stroke="#999" stroke-width="0.6"/>
<circle cx="315.31" cy="299.70" r="0.95" fill="#fff" stroke="#999" stroke-width="0.6"/>
<circle cx="334.02" cy="297.86" r="0.95" fill="#fff" stroke="#999" stroke-width="0.6"/>
<circle cx="349.00" cy="293.80" r="0.95" fill="#fff" stroke="#999" stroke-width="0.6"/>
<circle cx="352.74" cy="297.49" r="0.95" fill="#fff" stroke="#999" stroke-width="0.6"/>
<circle cx="373.94" cy="299.70" r="0.95" fill="#fff" stroke="#999" stroke-width="0.6"/>
<circle cx="298.47" cy="250.27" r="1.35" fill="#000"/>
<circle cx="299.72" cy="264.66" r="1.35" fill="#000"/>
<circle cx="299.72" cy="266.50" r="1.35" fill="#000"/>
<circle cx="300.34" cy="269.82" r="1.35" fill="#000"/>
<circle cx="299.72" cy="269.08" r="1.35" fill="#000"/>
<circle cx="300.97" cy="288.26" r="1.35" fill="#000"/>
<circle cx="307.20" cy="277.94" r="1.35" fill="#000"/>
<circle cx="308.45" cy="282.36" r="1.35" fill="#000"/>
<circle cx="326.54" cy="299.70" r="1.35" fill="#000"/>
<text x="366.30" y="243.60" font-size="4.8" text-anchor="start" fill="#333"><tspan font-style="italic">P</tspan> = 0.0001</text>
<text x="366.30" y="249.10" font-size="4.8" text-anchor="start" fill="#333"><tspan font-style="italic">R</tspan> = -0.88</text>
<text x="366.30" y="254.60" font-size="4.8" text-anchor="start" fill="#333"><tspan font-style="italic">n</tspan> = 17</text>
<text x="346.50" y="315.30" font-size="5.6" text-anchor="middle" fill="#111" font-weight="bold">IC<tspan font-size="3.4" dy="1">50</tspan><tspan dy="-1"> (μM)</tspan></text>
<line x1="415.30" y1="232.70" x2="515.30" y2="232.70" stroke="#444" stroke-width="0.9"/>
<line x1="515.30" y1="232.70" x2="515.30" y2="299.60" stroke="#444" stroke-width="0.9"/>
<line x1="415.30" y1="232.70" x2="415.30" y2="299.60" stroke="#222" stroke-width="0.9"/>
<line x1="415.30" y1="299.60" x2="515.30" y2="299.60" stroke="#222" stroke-width="0.9"/>
<line x1="413.70" y1="299.60" x2="415.30" y2="299.60" stroke="#222" stroke-width="0.6"/>
<text x="413.10" y="301.50" font-size="5.3" text-anchor="end" fill="#222" font-weight="bold">0</text>
<line x1="413.70" y1="288.45" x2="415.30" y2="288.45" stroke="#222" stroke-width="0.6"/>
<text x="413.10" y="290.35" font-size="5.3" text-anchor="end" fill="#222" font-weight="bold">3</text>
<line x1="413.70" y1="277.30" x2="415.30" y2="277.30" stroke="#222" stroke-width="0.6"/>
<text x="413.10" y="279.20" font-size="5.3" text-anchor="end" fill="#222" font-weight="bold">6</text>
<line x1="413.70" y1="266.15" x2="415.30" y2="266.15" stroke="#222" stroke-width="0.6"/>
<text x="413.10" y="268.05" font-size="5.3" text-anchor="end" fill="#222" font-weight="bold">9</text>
<line x1="413.70" y1="255.00" x2="415.30" y2="255.00" stroke="#222" stroke-width="0.6"/>
<text x="413.10" y="256.90" font-size="5.3" text-anchor="end" fill="#222" font-weight="bold">12</text>
<line x1="413.70" y1="243.85" x2="415.30" y2="243.85" stroke="#222" stroke-width="0.6"/>
<text x="413.10" y="245.75" font-size="5.3" text-anchor="end" fill="#222" font-weight="bold">15</text>
<line x1="413.70" y1="232.70" x2="415.30" y2="232.70" stroke="#222" stroke-width="0.6"/>
<text x="413.10" y="234.60" font-size="5.3" text-anchor="end" fill="#222" font-weight="bold">18</text>
<line x1="415.30" y1="299.60" x2="415.30" y2="301.00" stroke="#222" stroke-width="0.6"/>
<text x="415.30" y="307.60" font-size="5.3" text-anchor="middle" fill="#222" font-weight="bold">0</text>
<line x1="431.97" y1="299.60" x2="431.97" y2="301.00" stroke="#222" stroke-width="0.6"/>
<text x="431.97" y="307.60" font-size="5.3" text-anchor="middle" fill="#222" font-weight="bold">10</text>
<line x1="448.63" y1="299.60" x2="448.63" y2="301.00" stroke="#222" stroke-width="0.6"/>
<text x="448.63" y="307.60" font-size="5.3" text-anchor="middle" fill="#222" font-weight="bold">20</text>
<line x1="465.30" y1="299.60" x2="465.30" y2="301.00" stroke="#222" stroke-width="0.6"/>
<text x="465.30" y="307.60" font-size="5.3" text-anchor="middle" fill="#222" font-weight="bold">30</text>
<line x1="481.97" y1="299.60" x2="481.97" y2="301.00" stroke="#222" stroke-width="0.6"/>
<text x="481.97" y="307.60" font-size="5.3" text-anchor="middle" fill="#222" font-weight="bold">40</text>
<line x1="498.63" y1="299.60" x2="498.63" y2="301.00" stroke="#222" stroke-width="0.6"/>
<text x="498.63" y="307.60" font-size="5.3" text-anchor="middle" fill="#222" font-weight="bold">50</text>
<line x1="515.30" y1="299.60" x2="515.30" y2="301.00" stroke="#222" stroke-width="0.6"/>
<text x="515.30" y="307.60" font-size="5.3" text-anchor="middle" fill="#222" font-weight="bold">60</text>
<line x1="438.63" y1="299.60" x2="514.47" y2="269.87" stroke="#222" stroke-width="0.75"/>
<circle cx="442.63" cy="293.65" r="0.95" fill="#fff" stroke="#999" stroke-width="0.6"/>
<circle cx="432.47" cy="299.60" r="0.95" fill="#fff" stroke="#999" stroke-width="0.6"/>
<circle cx="451.97" cy="299.60" r="0.95" fill="#fff" stroke="#999" stroke-width="0.6"/>
<circle cx="489.47" cy="282.50" r="1.35" fill="#000"/>
<circle cx="489.47" cy="288.08" r="1.35" fill="#000"/>
<circle cx="506.13" cy="265.04" r="1.35" fill="#000"/>
<circle cx="514.47" cy="268.38" r="1.35" fill="#000"/>
<text x="420.80" y="241.20" font-size="4.8" text-anchor="start" fill="#333"><tspan font-style="italic">P</tspan> = 0.02</text>
<text x="420.80" y="246.90" font-size="4.8" text-anchor="start" fill="#333"><tspan font-style="italic">R</tspan> = 0.86</text>
<text x="420.80" y="252.60" font-size="4.8" text-anchor="start" fill="#333"><tspan font-style="italic">n</tspan> = 7</text>
<text x="465.30" y="315.20" font-size="5.6" text-anchor="middle" fill="#111" font-weight="bold">LGD (days)</text>
<text x="323.30" y="9.60" font-size="11.0" text-anchor="start" fill="#000" font-weight="bold">B</text>
<text x="339.20" y="7.60" font-size="8.5" text-anchor="start" fill="#000" font-weight="bold">mRNA</text>
<text x="347.20" y="16.80" font-size="8.2" text-anchor="middle" fill="#222" font-style="italic">In Vitro</text>
<text x="466.40" y="17.00" font-size="8.2" text-anchor="middle" fill="#222" font-style="italic">In Vivo</text>
<text x="323.40" y="113.50" font-size="11.0" text-anchor="start" fill="#000" font-weight="bold">C</text>
<text x="338.50" y="111.90" font-size="8.25" text-anchor="start" fill="#000" font-weight="bold">Protein</text>
<text x="347.20" y="121.30" font-size="8.2" text-anchor="middle" fill="#222" font-style="italic">In Vitro</text>
<text x="466.40" y="121.00" font-size="8.2" text-anchor="middle" fill="#222" font-style="italic">In Vivo</text>
<text x="323.30" y="221.70" font-size="11.0" text-anchor="start" fill="#000" font-weight="bold">D</text>
<text x="337.20" y="220.90" font-size="8.25" text-anchor="start" fill="#000" font-weight="bold">Activity</text>
<text x="347.20" y="231.00" font-size="8.2" text-anchor="middle" fill="#222" font-style="italic">In Vitro</text>
<text x="466.40" y="230.70" font-size="8.2" text-anchor="middle" fill="#222" font-style="italic">In Vivo</text>
</svg>
</body></html>
